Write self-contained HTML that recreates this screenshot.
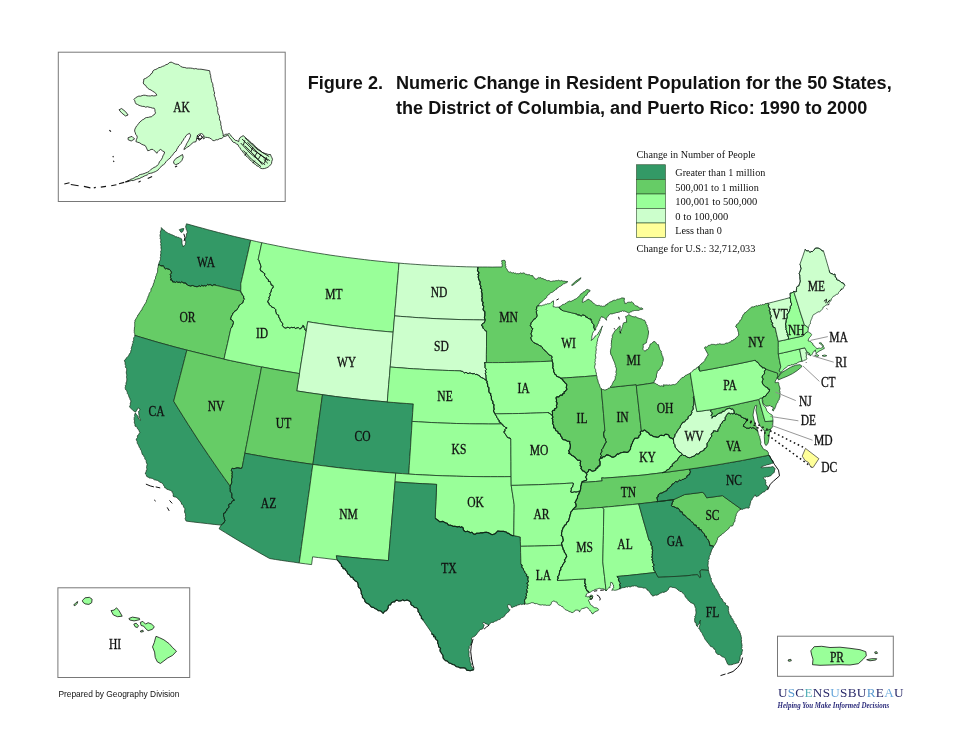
<!DOCTYPE html>
<html><head><meta charset="utf-8"><title>Figure 2</title>
<style>
html,body{margin:0;padding:0;background:#fff;}
body{width:960px;height:742px;overflow:hidden;position:relative;font-family:"Liberation Sans",sans-serif;}
svg{position:absolute;left:0;top:0;}
.st path{stroke:#17351f;stroke-width:0.75;stroke-linejoin:round;}
.lbl text{font-family:"Liberation Serif",serif;font-size:13.6px;fill:#111;text-anchor:middle;stroke:#111;stroke-width:0.3px;}
.isl{stroke:#111;stroke-width:0.8;stroke-linejoin:round;}
.title{font-family:"Liberation Sans",sans-serif;font-weight:bold;font-size:18.09px;fill:#111;}
.leg text{font-family:"Liberation Serif",serif;font-size:11.2px;fill:#111;}
</style></head><body>
<svg width="960" height="742" viewBox="0 0 960 742">
<g class="st">
<path d="M186.5,223.8 191.9,225.3 197.2,226.8 202.5,228.2 207.8,229.7 213.2,231.1 218.5,232.5 223.9,233.8 229.2,235.2 234.6,236.5 240.0,237.8 245.4,239.0 250.7,240.2 249.1,247.5 247.5,254.7 245.8,261.9 244.2,269.2 242.5,276.5 240.8,283.7 240.9,287.7 240.7,291.2 235.8,290.1 230.9,289.0 226.1,287.8 221.2,286.6 216.4,285.5 215.0,284.8 213.7,284.9 212.3,285.7 211.2,285.2 210.1,284.5 208.7,285.0 207.6,284.4 206.5,285.7 205.4,286.0 204.2,285.5 203.1,286.2 201.8,285.2 200.7,286.6 199.5,285.9 198.4,286.3 197.0,286.8 195.8,286.5 194.6,286.4 193.5,285.8 192.3,285.5 190.6,286.1 189.1,285.6 187.8,285.4 187.2,284.4 186.0,284.0 185.4,282.8 184.1,283.2 182.9,282.7 181.9,281.8 180.6,282.7 179.2,282.2 177.9,282.5 176.8,281.6 175.4,282.5 174.3,282.0 172.6,282.0 172.0,280.0 170.4,280.0 171.1,278.7 170.4,277.3 170.9,276.0 170.2,274.5 171.5,272.9 171.0,271.5 170.3,270.2 169.3,269.4 167.9,269.1 166.7,268.5 165.4,268.9 164.4,268.1 164.2,266.8 163.2,265.9 161.9,265.9 160.7,265.9 159.7,264.8 158.4,265.0 158.8,263.8 159.2,262.5 159.5,261.5 160.0,260.5 160.5,259.5 160.4,258.4 160.3,257.3 160.9,256.2 160.3,255.0 160.9,254.0 160.9,252.8 160.6,251.6 161.2,250.4 161.3,249.2 160.9,248.0 161.1,246.8 161.0,245.8 160.5,244.8 161.1,243.7 160.7,242.7 160.5,241.7 160.8,240.6 160.8,239.6 160.1,238.7 160.4,237.6 160.2,236.6 160.0,235.6 160.2,234.4 160.6,233.3 160.2,232.1 160.7,231.0 161.2,229.9 161.3,228.7 161.3,227.6 161.9,228.5 162.8,229.1 163.4,230.1 164.5,230.3 165.1,231.3 165.8,231.9 166.8,232.2 167.5,232.9 168.3,233.4 169.3,233.6 170.1,234.2 171.1,234.3 171.8,234.9 172.7,235.0 173.5,235.5 174.4,235.7 175.0,236.8 175.9,236.8 176.9,236.8 177.7,237.4 178.7,237.3 179.4,238.0 180.3,238.2 181.5,238.8 181.8,240.0 182.0,241.1 182.0,242.3 182.0,243.4 182.3,244.6 183.0,245.6 183.1,246.9 184.5,245.5 185.3,244.6 185.4,243.3 185.8,242.2 185.6,240.9 184.9,239.8 185.1,238.4 185.9,237.4 186.2,236.3 186.4,235.1 186.4,234.0 187.0,233.1 187.5,232.2 187.0,231.2 186.8,230.1 186.1,229.2 186.2,228.1 185.6,227.1 185.9,226.0 186.2,224.9Z" fill="#339966"/>
<path d="M158.4,265.0 159.7,264.8 160.7,265.9 161.9,265.9 163.2,265.9 164.2,266.8 164.4,268.1 165.4,268.9 166.7,268.5 167.9,269.1 169.3,269.4 170.3,270.2 171.0,271.5 171.5,272.9 170.2,274.5 170.9,276.0 170.4,277.3 171.1,278.7 170.4,280.0 172.0,280.0 172.6,282.0 174.3,282.0 175.4,282.5 176.8,281.6 177.9,282.5 179.2,282.2 180.6,282.7 181.9,281.8 182.9,282.7 184.1,283.2 185.4,282.8 186.0,284.0 187.2,284.4 187.8,285.4 189.1,285.6 190.6,286.1 192.3,285.5 193.5,285.8 194.6,286.4 195.8,286.5 197.0,286.8 198.4,286.3 199.5,285.9 200.7,286.6 201.8,285.2 203.1,286.2 204.2,285.5 205.4,286.0 206.5,285.7 207.6,284.4 208.7,285.0 210.1,284.5 211.2,285.2 212.3,285.7 213.7,284.9 215.0,284.8 216.4,285.5 221.2,286.6 226.1,287.8 230.9,289.0 235.8,290.1 240.7,291.2 241.2,292.5 242.0,293.8 242.5,295.2 243.7,296.1 243.6,298.0 244.5,299.2 243.5,300.1 243.2,301.8 242.6,303.1 241.2,303.8 240.2,304.8 239.0,305.6 238.6,307.3 237.7,308.4 237.1,309.5 236.3,310.5 234.9,310.9 234.3,312.1 232.9,313.0 232.5,314.7 231.6,315.9 231.0,317.6 230.5,319.3 232.0,319.9 233.0,321.0 233.5,322.6 233.2,323.9 232.7,325.1 232.1,326.9 230.9,328.3 229.2,336.0 227.5,343.7 225.7,351.4 224.0,359.1 217.8,357.7 211.6,356.2 205.4,354.7 199.2,353.2 193.1,351.7 186.9,350.1 181.1,348.6 175.3,347.1 169.5,345.5 163.7,343.9 157.9,342.3 152.1,340.6 146.4,338.9 140.6,337.2 134.8,335.4 134.8,334.4 134.6,333.3 134.2,332.3 134.3,331.2 134.2,330.1 134.5,329.0 134.3,328.0 134.7,326.8 134.7,325.7 134.7,324.6 134.7,323.4 134.6,322.3 135.1,321.2 134.9,320.1 135.8,319.3 136.3,318.2 136.9,317.2 137.6,316.2 137.8,315.0 138.9,314.3 139.2,313.1 140.1,312.3 140.5,311.3 141.0,310.4 142.1,309.8 142.2,308.6 142.7,307.7 143.2,306.8 143.9,305.9 144.3,304.9 144.8,304.0 145.6,303.2 146.0,302.2 146.5,301.3 146.5,300.2 147.2,299.3 147.4,298.3 147.9,297.3 148.0,296.2 148.9,295.5 148.9,294.4 149.3,293.3 149.8,292.4 150.7,291.5 150.9,290.4 151.0,289.1 151.5,288.0 152.3,287.2 152.7,286.0 153.3,285.1 153.3,283.9 153.9,283.0 154.3,282.0 154.3,280.8 154.6,279.7 155.5,278.9 155.5,277.8 155.6,276.6 156.3,275.6 156.4,274.4 156.9,273.3 157.5,272.3 157.6,271.1 157.7,269.9 157.6,268.6 158.0,267.5 158.3,266.2Z" fill="#66cc66"/>
<path d="M134.8,335.4 140.6,337.2 146.4,338.9 152.1,340.6 157.9,342.3 163.7,343.9 169.5,345.5 175.3,347.1 181.1,348.6 186.9,350.1 184.7,358.6 182.5,367.1 180.3,375.6 178.1,384.1 175.9,392.6 173.7,401.2 178.5,409.0 183.4,416.8 188.3,424.6 193.3,432.3 198.3,440.1 203.5,447.8 208.7,455.5 214.0,463.2 219.3,470.9 224.7,478.5 230.2,486.1 230.3,487.5 230.1,488.8 230.4,490.0 230.1,491.4 231.3,492.5 231.8,493.7 231.9,495.0 231.8,496.3 232.0,498.0 233.6,499.0 234.4,500.4 232.7,500.7 231.8,502.0 231.1,503.6 229.3,503.9 228.6,505.1 229.1,506.8 228.4,508.1 226.8,509.0 226.9,510.5 225.6,511.3 225.2,513.0 223.5,513.4 223.6,514.9 223.6,516.3 224.3,517.6 224.3,519.0 225.1,520.4 224.4,521.8 223.7,523.2 222.3,524.1 221.1,525.1 214.2,524.4 207.2,523.6 200.2,522.8 193.2,522.0 186.2,521.1 185.5,519.8 185.1,518.3 185.6,517.3 185.7,516.2 185.3,515.1 185.7,514.1 184.9,513.0 184.6,512.0 184.6,510.9 184.8,509.8 184.9,508.7 184.2,507.8 183.5,506.9 183.4,505.7 182.7,504.8 181.6,504.2 181.4,503.0 180.9,502.0 180.1,501.1 179.4,500.3 178.4,499.3 177.5,498.2 176.4,497.4 175.3,496.9 174.0,496.8 173.0,496.1 173.3,494.9 173.1,493.7 172.3,492.6 172.6,491.5 171.5,491.2 170.5,490.4 169.3,490.1 168.1,489.5 166.8,489.3 166.0,488.0 164.7,487.7 164.4,486.4 163.6,485.4 163.1,484.2 162.2,483.2 161.1,482.5 159.7,482.2 158.8,481.2 157.7,480.5 156.6,480.3 155.5,480.0 154.4,479.8 153.5,479.3 152.6,478.4 151.5,478.3 150.4,478.1 149.2,478.0 148.3,477.2 147.3,476.9 146.5,476.1 146.3,474.8 145.4,474.0 145.4,472.9 146.2,471.9 146.0,470.7 147.0,469.8 146.8,468.6 146.5,467.5 146.7,466.4 146.9,465.3 147.3,464.2 146.5,463.0 146.2,461.6 146.1,460.3 145.3,459.5 144.7,458.5 144.7,457.3 143.9,456.5 143.6,455.3 142.5,454.7 142.1,453.7 141.8,452.6 141.5,451.5 141.2,450.4 140.4,449.5 140.2,448.4 139.4,447.5 139.0,446.5 138.6,445.4 138.1,444.4 137.4,443.5 137.2,442.4 137.2,441.1 136.4,440.3 136.2,439.1 137.0,438.3 137.6,437.3 137.3,436.1 137.8,435.2 138.8,434.4 139.3,433.2 140.1,432.2 139.2,431.5 139.0,430.3 138.2,429.5 137.5,428.7 137.2,427.6 136.5,426.7 135.2,426.3 134.9,425.2 135.0,424.1 134.4,423.1 134.2,422.0 134.7,420.9 134.1,419.9 134.2,418.8 134.1,417.7 134.8,416.6 134.5,415.3 134.9,414.1 135.4,412.9 135.9,413.9 136.7,414.8 137.5,415.7 138.1,416.7 138.1,418.0 138.8,419.0 139.6,419.7 140.5,420.4 140.4,419.1 139.4,418.0 139.1,416.8 139.1,415.5 138.8,414.2 138.8,412.9 138.4,411.6 139.5,410.7 140.1,409.3 139.1,408.8 138.4,407.9 137.3,408.9 137.0,410.3 136.0,411.0 135.7,412.1 134.7,411.7 133.8,411.0 132.9,410.4 132.1,409.6 131.4,408.8 130.7,407.9 129.8,407.3 129.6,406.2 130.3,405.2 130.4,404.2 130.2,403.1 130.9,402.1 130.8,400.7 130.0,399.5 129.9,398.2 129.0,397.4 128.8,396.3 128.5,395.3 128.1,394.3 127.3,393.5 127.3,392.3 126.9,391.3 126.6,390.3 125.5,389.6 125.3,388.6 125.2,387.4 125.5,386.3 125.4,385.2 126.4,384.2 125.8,383.0 126.6,382.0 126.7,380.9 126.8,379.8 126.8,378.7 126.5,377.6 126.5,376.4 126.8,375.3 126.6,374.2 126.3,373.1 126.3,371.9 126.6,370.8 126.6,369.7 126.7,368.4 125.6,367.6 125.4,366.5 125.8,365.2 125.0,364.2 125.2,363.0 125.0,361.9 124.3,360.9 124.9,359.8 125.9,359.2 126.3,358.0 127.1,357.2 127.9,356.4 128.8,355.6 129.1,354.6 129.6,353.5 130.6,352.8 130.7,351.6 130.9,350.5 131.5,349.5 131.2,348.3 131.6,347.2 131.9,346.2 132.4,345.1 132.3,343.9 133.3,343.0 132.7,341.7 133.5,340.8 133.7,339.7 133.5,338.5 133.9,337.5 134.7,336.5Z" fill="#339966"/>
<path d="M186.9,350.1 193.1,351.7 199.2,353.2 205.4,354.7 211.6,356.2 217.8,357.7 224.0,359.1 230.3,360.5 236.5,361.8 242.8,363.1 249.1,364.4 255.3,365.7 261.6,366.9 260.0,375.5 258.3,384.2 256.6,392.8 254.9,401.4 253.3,410.0 251.6,418.7 249.9,427.3 248.3,435.9 246.6,444.6 244.9,453.2 243.5,460.5 242.1,467.9 240.4,468.4 238.8,468.0 237.1,467.8 235.5,468.3 233.9,468.7 232.2,468.3 231.5,469.5 231.4,470.7 232.5,472.0 232.0,473.2 232.3,474.5 232.0,475.7 232.3,477.2 231.7,478.6 231.5,480.0 231.7,481.4 231.7,482.9 231.0,484.5 230.2,486.1 224.7,478.5 219.3,470.9 214.0,463.2 208.7,455.5 203.5,447.8 198.3,440.1 193.3,432.3 188.3,424.6 183.4,416.8 178.5,409.0 173.7,401.2 175.9,392.6 178.1,384.1 180.3,375.6 182.5,367.1 184.7,358.6Z" fill="#66cc66"/>
<path d="M250.7,240.2 256.3,241.5 261.8,242.7 260.0,251.1 258.2,259.5 259.0,260.5 259.4,261.7 259.7,263.0 260.3,264.1 260.6,265.3 261.0,266.8 260.4,268.2 260.3,269.7 260.8,271.0 262.1,271.3 263.0,272.1 263.8,273.1 264.9,273.7 264.5,275.5 265.4,276.3 266.1,277.2 266.7,278.2 267.4,279.1 268.5,279.7 268.4,281.4 270.1,281.4 270.5,282.7 271.0,283.8 271.3,285.1 272.8,285.3 273.3,286.5 273.1,287.8 272.0,288.6 271.4,289.7 271.3,291.0 270.9,292.2 269.9,293.2 270.3,294.8 270.0,296.1 268.9,297.0 269.3,298.6 268.8,299.8 268.0,300.9 267.7,302.2 269.0,302.9 269.2,304.6 270.2,305.4 271.2,305.9 271.8,307.2 273.1,307.4 274.1,307.9 275.0,308.7 275.8,309.7 275.7,311.2 276.2,312.4 276.4,313.8 277.4,314.6 278.7,315.2 278.7,316.7 279.3,318.0 280.1,319.2 280.4,320.6 281.2,321.7 281.9,322.8 282.9,323.7 282.4,325.6 283.2,326.6 284.2,327.5 285.4,328.0 286.7,327.7 288.0,327.1 289.2,328.0 290.5,327.7 291.8,327.3 293.0,327.8 294.3,327.1 295.4,328.6 296.7,327.9 298.3,327.5 299.5,328.7 301.0,328.6 301.4,327.4 302.7,326.8 302.8,325.4 303.9,326.0 304.0,327.4 304.8,328.3 305.0,330.0 306.3,330.9 304.9,339.4 303.6,347.9 302.2,356.5 300.8,365.0 299.5,373.6 293.1,372.5 286.8,371.5 280.5,370.4 274.2,369.3 267.9,368.1 261.6,366.9 255.3,365.7 249.1,364.4 242.8,363.1 236.5,361.8 230.3,360.5 224.0,359.1 225.7,351.4 227.5,343.7 229.2,336.0 230.9,328.3 232.1,326.9 232.7,325.1 233.2,323.9 233.5,322.6 233.0,321.0 232.0,319.9 230.5,319.3 231.0,317.6 231.6,315.9 232.5,314.7 232.9,313.0 234.3,312.1 234.9,310.9 236.3,310.5 237.1,309.5 237.7,308.4 238.6,307.3 239.0,305.6 240.2,304.8 241.2,303.8 242.6,303.1 243.2,301.8 243.5,300.1 244.5,299.2 243.6,298.0 243.7,296.1 242.5,295.2 242.0,293.8 241.2,292.5 240.7,291.2 240.9,287.7 240.8,283.7 242.5,276.5 244.2,269.2 245.8,261.9 247.5,254.7 249.1,247.5Z" fill="#99ff99"/>
<path d="M261.8,242.7 267.5,243.9 273.1,245.0 278.8,246.2 284.5,247.3 290.2,248.4 295.9,249.4 301.6,250.4 307.3,251.4 313.0,252.4 318.7,253.3 324.4,254.2 330.1,255.1 335.8,255.9 341.6,256.7 347.3,257.5 353.0,258.2 358.8,258.9 364.5,259.6 370.3,260.3 376.0,260.9 381.8,261.5 387.5,262.1 393.3,262.6 399.0,263.1 398.4,270.6 397.8,278.1 397.1,285.6 396.5,293.2 395.9,300.7 395.2,308.3 394.6,315.9 393.9,324.0 393.2,332.2 387.1,331.6 380.9,331.1 374.8,330.5 368.7,329.8 362.6,329.2 356.5,328.5 350.4,327.8 344.3,327.0 338.2,326.2 332.1,325.4 326.0,324.5 319.9,323.6 313.8,322.7 307.7,321.7 307.0,326.3 306.3,330.9 305.0,330.0 304.8,328.3 304.0,327.4 303.9,326.0 302.8,325.4 302.7,326.8 301.4,327.4 301.0,328.6 299.5,328.7 298.3,327.5 296.7,327.9 295.4,328.6 294.3,327.1 293.0,327.8 291.8,327.3 290.5,327.7 289.2,328.0 288.0,327.1 286.7,327.7 285.4,328.0 284.2,327.5 283.2,326.6 282.4,325.6 282.9,323.7 281.9,322.8 281.2,321.7 280.4,320.6 280.1,319.2 279.3,318.0 278.7,316.7 278.7,315.2 277.4,314.6 276.4,313.8 276.2,312.4 275.7,311.2 275.8,309.7 275.0,308.7 274.1,307.9 273.1,307.4 271.8,307.2 271.2,305.9 270.2,305.4 269.2,304.6 269.0,302.9 267.7,302.2 268.0,300.9 268.8,299.8 269.3,298.6 268.9,297.0 270.0,296.1 270.3,294.8 269.9,293.2 270.9,292.2 271.3,291.0 271.4,289.7 272.0,288.6 273.1,287.8 273.3,286.5 272.8,285.3 271.3,285.1 271.0,283.8 270.5,282.7 270.1,281.4 268.4,281.4 268.5,279.7 267.4,279.1 266.7,278.2 266.1,277.2 265.4,276.3 264.5,275.5 264.9,273.7 263.8,273.1 263.0,272.1 262.1,271.3 260.8,271.0 260.3,269.7 260.4,268.2 261.0,266.8 260.6,265.3 260.3,264.1 259.7,263.0 259.4,261.7 259.0,260.5 258.2,259.5 260.0,251.1Z" fill="#99ff99"/>
<path d="M307.7,321.7 313.8,322.7 319.9,323.6 326.0,324.5 332.1,325.4 338.2,326.2 344.3,327.0 350.4,327.8 356.5,328.5 362.6,329.2 368.7,329.8 374.8,330.5 380.9,331.1 387.1,331.6 393.2,332.2 392.4,340.9 391.7,349.6 391.0,358.3 390.2,367.0 389.5,375.7 388.7,384.5 388.0,393.2 387.3,402.0 380.8,401.4 374.3,400.8 367.8,400.2 361.3,399.5 354.8,398.8 348.4,398.0 341.9,397.3 335.4,396.5 328.9,395.6 322.5,394.7 316.0,393.8 309.6,392.9 303.1,391.9 296.7,390.9 298.1,382.2 299.5,373.6 300.8,365.0 302.2,356.5 303.6,347.9 304.9,339.4 306.3,330.9 307.0,326.3Z" fill="#ccffcc"/>
<path d="M261.6,366.9 267.9,368.1 274.2,369.3 280.5,370.4 286.8,371.5 293.1,372.5 299.5,373.6 298.1,382.2 296.7,390.9 303.1,391.9 309.6,392.9 316.0,393.8 322.5,394.7 321.3,403.4 320.1,412.2 318.9,420.9 317.7,429.6 316.5,438.3 315.3,447.0 314.1,455.7 312.9,464.4 306.0,463.4 299.2,462.4 292.4,461.4 285.6,460.3 278.8,459.2 272.0,458.1 265.2,456.9 258.5,455.7 251.7,454.5 244.9,453.2 246.6,444.6 248.3,435.9 249.9,427.3 251.6,418.7 253.3,410.0 254.9,401.4 256.6,392.8 258.3,384.2 260.0,375.5Z" fill="#66cc66"/>
<path d="M322.5,394.7 328.9,395.6 335.4,396.5 341.9,397.3 348.4,398.0 354.8,398.8 361.3,399.5 367.8,400.2 374.3,400.8 380.8,401.4 387.3,402.0 393.8,402.5 400.3,403.0 406.8,403.5 413.3,403.9 412.7,412.7 412.1,421.4 411.6,430.2 411.0,439.0 410.5,447.8 409.9,456.5 409.3,465.3 408.8,474.1 402.3,473.6 395.7,473.2 389.3,472.7 382.9,472.2 376.6,471.6 370.2,471.0 363.8,470.4 357.4,469.8 351.0,469.1 344.7,468.4 338.3,467.7 331.9,466.9 325.6,466.1 319.2,465.3 312.9,464.4 314.1,455.7 315.3,447.0 316.5,438.3 317.7,429.6 318.9,420.9 320.1,412.2 321.3,403.4Z" fill="#339966"/>
<path d="M244.9,453.2 251.7,454.5 258.5,455.7 265.2,456.9 272.0,458.1 278.8,459.2 285.6,460.3 292.4,461.4 299.2,462.4 306.0,463.4 312.9,464.4 311.7,472.6 310.6,480.9 309.5,489.1 308.3,497.3 307.2,505.5 306.0,513.8 304.9,522.0 303.8,530.2 302.6,538.4 301.5,546.6 300.4,554.8 299.2,563.0 293.3,562.1 287.4,561.3 281.5,560.4 275.5,559.5 269.6,558.5 263.2,554.9 256.8,551.3 250.4,547.6 244.1,543.9 237.8,540.2 231.5,536.4 225.3,532.6 219.1,528.8 221.1,525.1 222.3,524.1 223.7,523.2 224.4,521.8 225.1,520.4 224.3,519.0 224.3,517.6 223.6,516.3 223.6,514.9 223.5,513.4 225.2,513.0 225.6,511.3 226.9,510.5 226.8,509.0 228.4,508.1 229.1,506.8 228.6,505.1 229.3,503.9 231.1,503.6 231.8,502.0 232.7,500.7 234.4,500.4 233.6,499.0 232.0,498.0 231.8,496.3 231.9,495.0 231.8,493.7 231.3,492.5 230.1,491.4 230.4,490.0 230.1,488.8 230.3,487.5 230.2,486.1 231.0,484.5 231.7,482.9 231.7,481.4 231.5,480.0 231.7,478.6 232.3,477.2 232.0,475.7 232.3,474.5 232.0,473.2 232.5,472.0 231.4,470.7 231.5,469.5 232.2,468.3 233.9,468.7 235.5,468.3 237.1,467.8 238.8,468.0 240.4,468.4 242.1,467.9 243.5,460.5Z" fill="#339966"/>
<path d="M312.9,464.4 319.2,465.3 325.6,466.1 331.9,466.9 338.3,467.7 344.7,468.4 351.0,469.1 357.4,469.8 363.8,470.4 370.2,471.0 376.6,471.6 382.9,472.2 389.3,472.7 395.7,473.2 395.1,481.9 394.3,490.7 393.6,499.5 392.9,508.2 392.1,517.0 391.4,525.7 390.6,534.5 389.9,543.2 389.1,551.9 388.4,560.6 381.9,560.1 375.3,559.6 368.8,559.0 362.3,558.5 355.8,557.8 349.3,557.2 342.8,556.5 336.3,555.8 337.2,559.8 331.0,559.1 324.9,558.3 318.7,557.6 312.6,556.8 311.6,564.6 305.4,563.8 299.2,563.0 300.4,554.8 301.5,546.6 302.6,538.4 303.8,530.2 304.9,522.0 306.0,513.8 307.2,505.5 308.3,497.3 309.5,489.1 310.6,480.9 311.7,472.6Z" fill="#99ff99"/>
<path d="M399.0,263.1 404.7,263.6 410.3,264.0 415.9,264.4 421.5,264.8 427.2,265.1 432.8,265.5 438.4,265.7 444.0,266.0 449.7,266.2 455.3,266.4 460.9,266.6 466.6,266.8 472.2,266.9 477.8,267.0 478.0,268.2 477.6,269.5 477.5,270.7 478.4,271.9 479.1,273.0 477.9,274.4 478.7,275.6 478.2,276.9 478.5,278.1 478.8,279.3 479.3,280.5 480.1,281.6 480.2,282.9 479.7,284.2 480.4,285.3 481.0,286.5 480.3,288.1 481.5,289.0 481.8,290.3 481.4,291.7 482.0,292.9 482.1,294.1 482.1,295.3 481.9,296.6 482.4,297.7 481.9,299.0 482.0,300.2 482.1,301.4 483.3,302.5 482.7,303.8 482.7,305.2 483.7,306.3 483.5,307.7 483.1,309.2 483.5,310.5 484.8,311.5 484.9,312.8 484.8,314.2 484.9,315.7 484.4,317.2 484.7,318.6 485.3,320.0 479.2,319.9 473.2,319.8 467.1,319.7 461.1,319.6 455.0,319.4 449.0,319.2 442.9,319.0 436.9,318.7 430.8,318.4 424.8,318.0 418.7,317.7 412.7,317.3 406.6,316.8 400.6,316.4 394.6,315.9 395.2,308.3 395.9,300.7 396.5,293.2 397.1,285.6 397.8,278.1 398.4,270.6Z" fill="#ccffcc"/>
<path d="M394.6,315.9 400.6,316.4 406.6,316.8 412.7,317.3 418.7,317.7 424.8,318.0 430.8,318.4 436.9,318.7 442.9,319.0 449.0,319.2 455.0,319.4 461.1,319.6 467.1,319.7 473.2,319.8 479.2,319.9 485.3,320.0 484.8,321.4 484.4,322.8 483.0,323.4 481.9,324.3 481.7,325.9 482.9,326.3 482.9,328.2 483.9,328.8 484.7,329.7 485.3,330.8 486.6,331.1 486.5,339.0 486.5,346.8 486.4,354.7 486.4,362.6 484.5,362.6 485.0,364.3 485.1,366.1 485.0,367.4 485.7,368.5 486.4,369.6 485.3,370.8 486.1,372.7 485.1,373.9 486.0,375.0 486.0,376.4 486.1,377.7 486.2,379.0 486.3,380.3 485.1,379.9 484.3,378.8 483.2,378.3 481.7,377.7 480.3,377.0 479.4,375.6 478.1,375.2 476.9,374.4 475.4,374.5 474.3,373.5 473.0,373.9 471.8,373.6 470.5,373.2 469.2,373.1 468.0,373.7 467.0,373.0 466.0,372.2 464.5,373.1 463.6,372.4 462.6,371.4 461.5,371.3 460.4,370.9 454.6,370.7 448.7,370.5 442.8,370.3 437.0,370.1 431.1,369.8 425.3,369.5 419.4,369.1 413.6,368.8 407.7,368.4 401.9,367.9 396.1,367.5 390.2,367.0 391.0,358.3 391.7,349.6 392.4,340.9 393.2,332.2 393.9,324.0Z" fill="#ccffcc"/>
<path d="M390.2,367.0 396.1,367.5 401.9,367.9 407.7,368.4 413.6,368.8 419.4,369.1 425.3,369.5 431.1,369.8 437.0,370.1 442.8,370.3 448.7,370.5 454.6,370.7 460.4,370.9 461.5,371.3 462.6,371.4 463.6,372.4 464.5,373.1 466.0,372.2 467.0,373.0 468.0,373.7 469.2,373.1 470.5,373.2 471.8,373.6 473.0,373.9 474.3,373.5 475.4,374.5 476.9,374.4 478.1,375.2 479.4,375.6 480.3,377.0 481.7,377.7 483.2,378.3 484.3,378.8 485.1,379.9 486.3,380.3 487.2,381.3 486.9,382.7 487.6,383.9 487.7,385.2 487.6,386.6 488.9,387.5 488.9,388.9 488.9,390.2 488.9,391.6 489.4,392.8 490.9,393.7 490.5,395.2 491.4,396.3 491.4,397.6 491.4,399.3 492.2,400.5 493.0,401.8 492.8,403.4 494.1,404.8 493.8,406.4 493.9,407.8 494.3,409.2 493.5,410.6 494.0,412.0 495.1,413.8 495.5,415.0 496.5,416.0 496.8,417.3 497.7,418.3 498.0,419.6 499.3,420.3 499.2,422.1 500.9,422.5 501.3,423.9 495.0,424.0 488.6,424.0 482.2,423.9 475.8,423.9 469.5,423.8 463.1,423.6 456.7,423.5 450.3,423.3 444.0,423.1 437.6,422.8 431.2,422.5 424.9,422.2 418.5,421.8 412.1,421.4 412.7,412.7 413.3,403.9 406.8,403.5 400.3,403.0 393.8,402.5 387.3,402.0 388.0,393.2 388.7,384.5 389.5,375.7Z" fill="#99ff99"/>
<path d="M412.1,421.4 418.5,421.8 424.9,422.2 431.2,422.5 437.6,422.8 444.0,423.1 450.3,423.3 456.7,423.5 463.1,423.6 469.5,423.8 475.8,423.9 482.2,423.9 488.6,424.0 495.0,424.0 501.3,423.9 502.7,424.3 503.3,426.0 504.7,426.5 505.6,427.6 507.1,427.9 505.8,428.5 505.0,429.4 505.1,431.2 503.8,431.7 504.4,432.9 505.2,433.9 506.0,435.1 506.8,436.2 507.4,437.5 508.8,437.8 510.1,438.0 510.8,439.3 510.9,446.8 510.9,454.2 511.0,461.7 511.0,469.1 511.1,476.6 504.3,476.7 497.4,476.7 490.6,476.7 483.8,476.7 477.0,476.6 470.1,476.5 463.3,476.4 456.5,476.2 449.7,476.0 442.9,475.8 436.0,475.5 429.2,475.2 422.4,474.9 415.6,474.5 408.8,474.1 409.3,465.3 409.9,456.5 410.5,447.8 411.0,439.0 411.6,430.2Z" fill="#99ff99"/>
<path d="M408.8,474.1 415.6,474.5 422.4,474.9 429.2,475.2 436.0,475.5 442.9,475.8 449.7,476.0 456.5,476.2 463.3,476.4 470.1,476.5 477.0,476.6 483.8,476.7 490.6,476.7 497.4,476.7 504.3,476.7 511.1,476.6 511.2,485.4 512.2,491.8 513.2,498.2 514.2,504.7 514.1,512.4 514.0,520.1 513.9,527.9 513.8,535.6 512.3,535.6 511.0,535.1 509.8,534.3 508.8,533.4 507.3,533.3 506.4,532.0 505.0,531.8 503.6,531.4 502.1,531.4 500.7,531.4 499.2,531.2 497.7,531.1 496.7,532.0 495.8,533.2 494.6,533.9 493.4,534.3 492.1,534.7 490.7,534.0 489.4,533.3 488.0,532.6 486.5,532.3 484.9,532.4 483.5,532.6 482.2,532.9 480.7,532.7 479.5,533.2 478.1,533.3 476.7,533.2 475.5,534.1 474.0,534.3 472.9,533.3 471.9,532.2 470.2,532.8 469.1,531.9 467.5,531.2 465.7,531.7 464.1,530.9 463.3,529.6 463.2,528.0 462.0,526.8 460.5,527.4 459.2,526.4 457.7,526.9 456.3,526.6 454.9,526.3 453.4,526.4 452.0,525.8 450.7,525.2 449.2,525.3 448.0,524.7 447.3,523.3 445.9,523.0 444.6,522.5 443.6,521.6 442.2,521.4 440.8,521.8 439.3,521.7 438.6,520.5 437.3,520.0 436.4,519.0 435.2,518.4 435.5,509.9 435.9,501.4 436.3,492.9 436.6,484.4 429.7,484.0 422.8,483.7 415.8,483.3 408.9,482.9 402.0,482.4 395.1,481.9 395.7,473.2 402.3,473.6Z" fill="#99ff99"/>
<path d="M395.1,481.9 402.0,482.4 408.9,482.9 415.8,483.3 422.8,483.7 429.7,484.0 436.6,484.4 436.3,492.9 435.9,501.4 435.5,509.9 435.2,518.4 436.4,519.0 437.3,520.0 438.6,520.5 439.3,521.7 440.8,521.8 442.2,521.4 443.6,521.6 444.6,522.5 445.9,523.0 447.3,523.3 448.0,524.7 449.2,525.3 450.7,525.2 452.0,525.8 453.4,526.4 454.9,526.3 456.3,526.6 457.7,526.9 459.2,526.4 460.5,527.4 462.0,526.8 463.2,528.0 463.3,529.6 464.1,530.9 465.7,531.7 467.5,531.2 469.1,531.9 470.2,532.8 471.9,532.2 472.9,533.3 474.0,534.3 475.5,534.1 476.7,533.2 478.1,533.3 479.5,533.2 480.7,532.7 482.2,532.9 483.5,532.6 484.9,532.4 486.5,532.3 488.0,532.6 489.4,533.3 490.7,534.0 492.1,534.7 493.4,534.3 494.6,533.9 495.8,533.2 496.7,532.0 497.7,531.1 499.2,531.2 500.7,531.4 502.1,531.4 503.6,531.4 505.0,531.8 506.4,532.0 507.3,533.3 508.8,533.4 509.8,534.3 511.0,535.1 512.3,535.6 513.8,535.6 520.3,537.0 520.4,541.7 520.5,546.3 520.6,552.3 520.8,558.2 520.9,564.2 522.2,565.0 521.9,566.6 522.2,567.9 523.5,568.7 523.5,570.2 524.6,571.1 524.9,572.4 525.5,573.5 526.8,574.4 526.3,576.0 528.2,576.6 528.1,578.0 527.8,579.3 528.2,580.6 528.6,581.9 526.8,583.0 527.7,584.3 528.0,585.6 527.2,586.8 527.8,588.3 526.6,589.6 527.2,591.1 527.2,592.5 526.1,593.8 526.7,595.2 525.8,596.7 526.4,598.1 524.9,599.1 524.5,600.8 524.8,602.5 524.6,604.3 523.1,604.0 521.7,604.6 520.2,604.1 519.1,604.9 517.6,604.8 516.7,606.0 515.2,606.1 514.2,606.7 512.9,606.9 512.1,607.8 511.2,607.1 511.2,605.8 510.2,605.1 508.3,604.4 507.7,605.6 507.7,607.0 508.5,608.2 509.2,609.5 510.2,609.8 509.1,610.7 508.6,611.9 507.3,612.6 506.5,613.6 505.3,614.4 504.9,615.7 503.9,616.6 502.7,617.4 501.5,617.6 500.8,618.6 499.9,619.4 498.7,619.6 497.7,620.1 496.5,620.9 495.1,621.1 494.1,622.1 492.7,622.4 491.3,622.5 490.2,623.3 488.9,624.9 487.6,624.4 486.4,623.9 484.8,623.3 483.9,622.0 482.6,623.3 483.7,624.4 484.1,625.8 483.3,626.9 483.3,628.3 481.9,629.2 480.1,629.5 479.4,630.7 478.6,631.7 477.6,632.7 476.9,633.8 476.1,634.9 475.1,635.8 474.1,636.6 472.8,637.1 471.7,637.8 471.4,638.9 471.6,640.2 471.7,641.5 472.0,642.7 470.8,643.5 470.9,644.9 469.8,645.8 469.0,646.8 469.5,648.1 468.7,649.1 468.6,650.2 469.1,651.4 469.1,652.7 468.8,654.0 469.1,655.2 468.8,656.3 469.8,657.3 469.9,658.3 470.0,659.4 469.8,660.5 470.1,661.5 470.4,662.8 471.4,663.9 470.9,665.3 471.6,666.5 472.2,667.6 473.4,668.4 473.9,669.6 472.1,670.1 470.3,670.8 468.3,670.4 466.5,670.1 465.6,668.3 463.9,667.9 462.1,667.7 460.1,667.9 458.4,667.0 456.6,666.7 455.4,666.0 454.5,664.8 452.9,664.6 451.7,663.9 450.4,663.3 448.9,663.0 448.0,661.8 447.0,660.9 445.3,660.6 444.4,659.5 443.4,658.5 443.0,657.3 443.0,655.9 442.6,654.7 441.5,653.6 441.0,652.4 440.1,651.2 440.0,649.8 440.6,648.3 438.9,647.2 438.5,645.9 438.4,644.5 437.7,643.3 437.7,641.9 437.6,640.5 436.2,639.7 435.3,638.7 435.6,637.1 433.5,636.6 433.9,635.0 432.0,634.4 431.9,633.0 427.5,626.7 423.2,620.4 422.8,619.2 421.3,618.4 421.4,617.0 421.0,615.8 419.7,614.9 419.7,613.5 418.8,612.5 418.0,611.4 418.1,610.0 417.7,608.8 416.4,607.7 414.3,607.5 413.3,606.0 411.7,605.3 410.8,604.2 410.8,602.3 409.6,601.3 408.3,600.5 406.9,599.9 405.6,600.5 404.2,600.7 402.8,599.8 401.5,600.6 400.0,601.0 398.5,601.0 396.9,600.1 395.4,600.5 394.9,601.9 393.2,601.9 391.8,602.4 391.1,603.5 390.6,604.9 388.9,605.0 388.2,606.1 388.2,608.0 387.2,609.6 386.4,610.7 384.8,611.1 384.0,612.2 383.1,613.3 382.1,612.3 381.2,611.2 379.9,610.7 378.2,610.7 377.3,609.7 376.0,608.9 374.6,608.4 373.5,607.4 371.9,607.2 370.7,606.5 369.9,605.2 368.8,604.2 367.4,603.4 366.0,602.7 365.0,601.7 364.8,600.3 364.3,599.1 363.2,598.2 362.3,597.1 362.5,595.7 361.8,594.6 361.2,593.4 361.3,592.1 361.0,590.9 360.6,589.7 360.2,588.5 358.7,587.5 358.2,586.4 358.2,585.1 357.9,583.8 357.7,582.6 356.6,581.6 355.2,581.0 354.3,579.9 353.2,579.0 352.9,577.3 350.9,577.2 350.1,576.0 349.4,574.8 347.9,574.1 347.3,572.7 346.9,571.2 345.6,570.4 345.1,568.9 343.1,568.6 342.8,567.0 341.4,566.2 341.4,564.6 340.4,563.5 339.4,562.5 338.6,561.3 337.6,560.3 337.2,559.8 336.3,555.8 342.8,556.5 349.3,557.2 355.8,557.8 362.3,558.5 368.8,559.0 375.3,559.6 381.9,560.1 388.4,560.6 389.1,551.9 389.9,543.2 390.6,534.5 391.4,525.7 392.1,517.0 392.9,508.2 393.6,499.5 394.3,490.7Z" fill="#339966"/>
<path d="M477.8,267.0 482.7,267.0 487.5,267.0 492.3,267.1 497.1,267.0 501.9,267.0 502.2,265.9 502.3,264.8 501.8,263.7 502.2,262.6 501.6,261.6 501.8,260.5 502.9,260.6 503.9,260.2 505.0,260.6 505.4,261.6 505.5,262.6 505.2,263.7 505.7,264.7 505.3,265.8 506.0,266.7 505.7,267.8 506.5,268.6 507.1,269.5 507.7,270.7 508.3,271.7 509.3,272.2 510.5,271.9 511.4,272.6 512.4,272.9 513.5,272.6 514.5,273.3 515.6,273.1 516.6,273.8 517.7,273.6 518.8,273.8 519.8,273.4 520.8,272.8 521.9,273.6 522.9,273.0 523.9,272.9 524.7,273.3 525.5,274.3 526.5,274.1 527.2,274.8 528.2,274.7 529.2,274.7 530.1,274.9 531.0,275.8 532.0,275.5 532.9,275.8 533.3,276.8 533.9,277.7 534.8,278.2 535.4,279.1 536.4,279.1 537.2,278.4 538.1,278.2 538.8,277.3 539.7,277.9 540.9,277.6 541.7,278.7 542.9,278.5 543.8,279.1 544.8,279.6 545.8,279.7 546.7,280.5 547.7,280.7 548.8,280.5 549.8,280.9 550.7,281.5 551.7,281.4 552.7,281.1 553.6,280.9 554.6,281.0 555.5,280.7 556.5,280.6 557.4,280.7 558.4,280.2 559.3,280.6 560.3,280.9 561.2,280.4 562.2,280.8 563.1,281.2 564.0,281.1 565.0,281.2 565.9,281.6 566.9,281.4 567.8,281.7 566.9,282.2 566.3,283.1 565.2,283.1 564.4,283.7 563.4,283.8 562.7,284.6 561.9,285.3 561.0,285.6 560.3,286.5 559.3,286.6 558.6,287.3 557.9,288.1 556.8,288.1 556.4,289.4 555.5,289.7 554.8,290.4 554.0,290.9 553.2,291.5 552.5,292.3 551.5,292.5 550.6,292.9 549.9,293.5 549.1,294.2 548.5,295.0 547.5,295.5 546.9,296.4 546.6,297.6 545.8,298.4 544.9,298.9 544.0,299.6 543.4,300.4 542.6,301.1 541.8,301.8 541.0,302.3 540.1,302.8 539.6,303.9 538.8,304.4 538.8,305.8 537.6,306.0 536.6,306.8 536.9,308.0 536.2,309.3 537.0,310.5 536.3,311.8 536.5,313.0 536.8,314.2 537.2,315.4 537.0,316.7 536.0,317.6 535.3,318.9 533.9,319.1 533.1,320.5 532.3,321.8 531.0,322.7 530.9,324.4 530.1,325.8 531.3,326.5 531.7,328.1 533.0,328.7 531.9,330.5 531.8,331.9 531.1,333.3 531.4,334.8 532.1,336.1 530.9,337.5 531.1,338.8 531.6,340.1 532.5,341.3 533.6,342.5 535.0,343.1 536.2,343.8 537.6,344.0 538.6,345.1 539.9,345.7 541.3,346.2 542.2,347.0 542.7,348.4 543.4,349.3 544.6,349.9 545.2,351.1 546.3,351.7 547.3,352.6 548.0,353.9 549.0,354.8 550.3,355.3 551.5,355.8 552.2,357.1 551.6,358.5 552.3,359.7 552.2,361.1 546.2,361.4 540.2,361.6 534.2,361.8 528.3,362.0 522.3,362.2 516.3,362.3 510.3,362.4 504.3,362.5 498.4,362.6 492.4,362.6 486.4,362.6 486.4,354.7 486.5,346.8 486.5,339.0 486.6,331.1 485.3,330.8 484.7,329.7 483.9,328.8 482.9,328.2 482.9,326.3 481.7,325.9 481.9,324.3 483.0,323.4 484.4,322.8 484.8,321.4 485.3,320.0 484.7,318.6 484.4,317.2 484.9,315.7 484.8,314.2 484.9,312.8 484.8,311.5 483.5,310.5 483.1,309.2 483.5,307.7 483.7,306.3 482.7,305.2 482.7,303.8 483.3,302.5 482.1,301.4 482.0,300.2 481.9,299.0 482.4,297.7 481.9,296.6 482.1,295.3 482.1,294.1 482.0,292.9 481.4,291.7 481.8,290.3 481.5,289.0 480.3,288.1 481.0,286.5 480.4,285.3 479.7,284.2 480.2,282.9 480.1,281.6 479.3,280.5 478.8,279.3 478.5,278.1 478.2,276.9 478.7,275.6 477.9,274.4 479.1,273.0 478.4,271.9 477.5,270.7 477.6,269.5 478.0,268.2Z" fill="#66cc66"/>
<path d="M486.4,362.6 492.4,362.6 498.4,362.6 504.3,362.5 510.3,362.4 516.3,362.3 522.3,362.2 528.3,362.0 534.2,361.8 540.2,361.6 546.2,361.4 552.2,361.1 552.6,362.3 553.0,363.6 552.8,365.0 553.1,366.3 552.7,367.7 553.4,368.9 553.8,370.2 553.6,371.6 554.4,372.8 554.7,374.1 556.0,374.7 556.7,376.2 558.0,376.8 559.4,377.2 560.4,378.2 561.6,378.8 562.7,379.5 563.2,380.9 564.3,381.7 565.0,382.9 566.1,383.6 566.8,384.8 566.5,386.3 566.3,387.7 567.0,389.2 566.2,390.2 565.4,391.2 564.1,391.7 564.2,393.5 562.6,393.9 562.3,395.3 560.9,395.1 559.7,395.7 558.8,397.0 557.4,396.8 556.2,397.2 556.2,398.7 556.6,400.1 556.3,401.6 557.1,402.9 557.0,404.3 556.4,405.6 556.9,407.1 556.1,408.3 554.8,408.6 554.6,410.4 553.0,410.3 552.3,411.4 552.5,412.9 552.5,414.4 552.3,415.8 551.5,414.7 550.3,414.0 549.2,413.2 548.0,412.5 542.2,412.8 536.3,413.0 530.4,413.2 524.5,413.4 518.6,413.5 512.7,413.6 506.9,413.7 501.0,413.8 495.1,413.8 494.0,412.0 493.5,410.6 494.3,409.2 493.9,407.8 493.8,406.4 494.1,404.8 492.8,403.4 493.0,401.8 492.2,400.5 491.4,399.3 491.4,397.6 491.4,396.3 490.5,395.2 490.9,393.7 489.4,392.8 488.9,391.6 488.9,390.2 488.9,388.9 488.9,387.5 487.6,386.6 487.7,385.2 487.6,383.9 486.9,382.7 487.2,381.3 486.3,380.3 486.2,379.0 486.1,377.7 486.0,376.4 486.0,375.0 485.1,373.9 486.1,372.7 485.3,370.8 486.4,369.6 485.7,368.5 485.0,367.4 485.1,366.1 485.0,364.3 484.5,362.6Z" fill="#99ff99"/>
<path d="M495.1,413.8 501.0,413.8 506.9,413.7 512.7,413.6 518.6,413.5 524.5,413.4 530.4,413.2 536.3,413.0 542.2,412.8 548.0,412.5 549.2,413.2 550.3,414.0 551.5,414.7 552.3,415.8 553.0,417.1 552.1,418.4 552.8,419.6 552.5,420.9 553.1,422.1 552.5,423.4 553.4,424.7 553.8,426.2 553.5,427.8 554.9,428.0 555.4,429.3 555.8,430.7 557.2,431.0 558.0,431.9 558.2,433.4 560.0,433.8 560.5,435.0 560.9,436.3 561.9,437.2 562.2,438.6 563.1,439.6 564.5,439.8 565.9,440.1 567.1,441.1 568.5,441.2 569.9,441.5 569.6,442.9 570.2,444.3 570.4,445.7 570.3,447.0 570.1,448.3 569.7,449.5 568.6,450.6 569.6,452.2 568.6,453.4 569.8,453.7 570.9,454.3 571.6,455.5 572.9,455.8 573.9,456.5 574.9,457.2 575.7,458.2 576.8,459.3 577.9,460.3 579.7,460.2 580.7,461.4 580.2,462.8 580.5,464.2 580.2,465.6 581.6,467.0 580.9,468.4 581.8,469.6 582.7,470.9 584.3,471.2 585.2,472.4 586.4,473.3 587.0,474.8 586.1,476.2 585.8,477.6 586.9,479.0 586.2,480.4 584.8,480.8 583.5,481.2 582.1,481.6 582.1,482.4 581.4,483.6 581.3,484.9 580.8,486.2 580.7,487.5 580.7,488.9 580.3,490.1 580.0,491.4 578.6,491.4 577.3,491.8 576.0,492.2 574.6,491.8 573.3,492.2 572.0,492.5 570.6,492.0 571.0,490.7 571.3,489.4 571.1,488.0 572.6,487.0 572.7,485.7 573.3,484.4 573.1,483.0 566.3,483.4 559.4,483.8 552.5,484.1 545.6,484.4 538.7,484.7 531.9,484.9 525.0,485.1 518.1,485.3 511.2,485.4 511.1,476.6 511.0,469.1 511.0,461.7 510.9,454.2 510.9,446.8 510.8,439.3 510.1,438.0 508.8,437.8 507.4,437.5 506.8,436.2 506.0,435.1 505.2,433.9 504.4,432.9 503.8,431.7 505.1,431.2 505.0,429.4 505.8,428.5 507.1,427.9 505.6,427.6 504.7,426.5 503.3,426.0 502.7,424.3 501.3,423.9 500.9,422.5 499.2,422.1 499.3,420.3 498.0,419.6 497.7,418.3 496.8,417.3 496.5,416.0 495.5,415.0Z" fill="#99ff99"/>
<path d="M511.2,485.4 518.1,485.3 525.0,485.1 531.9,484.9 538.7,484.7 545.6,484.4 552.5,484.1 559.4,483.8 566.3,483.4 573.1,483.0 573.3,484.4 572.7,485.7 572.6,487.0 571.1,488.0 571.3,489.4 571.0,490.7 570.6,492.0 572.0,492.5 573.3,492.2 574.6,491.8 576.0,492.2 577.3,491.8 578.6,491.4 580.0,491.4 579.2,492.7 578.9,494.2 577.8,495.3 577.5,496.8 577.4,498.4 576.4,499.6 576.0,501.0 575.0,502.3 575.9,503.8 576.2,505.3 575.8,507.0 574.5,507.5 573.8,508.7 572.7,509.5 572.1,510.9 570.8,511.9 570.7,513.5 570.1,514.9 569.8,516.7 569.2,518.5 568.9,519.9 568.4,521.3 567.0,522.1 566.5,523.4 566.0,524.7 564.4,525.3 564.2,526.8 563.0,527.6 562.8,529.0 562.1,530.2 562.0,531.6 561.5,532.9 561.7,534.3 561.2,535.6 562.6,536.5 562.8,538.1 563.2,539.6 563.2,541.0 562.0,542.3 561.5,543.7 562.1,545.2 555.2,545.5 548.3,545.7 541.3,545.9 534.4,546.1 527.5,546.2 520.5,546.3 520.4,541.7 520.3,537.0 513.8,535.6 513.9,527.9 514.0,520.1 514.1,512.4 514.2,504.7 513.2,498.2 512.2,491.8Z" fill="#99ff99"/>
<path d="M520.5,546.3 527.5,546.2 534.4,546.1 541.3,545.9 548.3,545.7 555.2,545.5 562.1,545.2 562.3,546.6 563.0,548.0 563.2,549.4 564.2,550.6 564.3,552.1 565.4,553.4 566.2,554.8 566.7,556.4 566.0,557.6 565.5,558.8 564.4,559.9 565.2,561.6 564.1,562.6 563.4,563.8 562.7,564.9 562.3,566.1 561.3,567.1 560.7,568.3 560.9,569.8 559.7,570.7 559.6,572.0 559.4,573.2 559.2,574.4 558.7,575.6 557.6,576.7 558.3,578.1 557.5,579.2 557.5,580.5 564.5,580.1 571.4,579.7 578.4,579.3 585.3,578.9 584.9,580.3 584.9,581.7 584.8,583.1 585.7,584.6 584.7,585.9 586.1,586.7 585.7,588.4 586.5,589.5 587.0,590.7 588.5,591.4 588.9,592.7 587.6,593.1 586.5,593.9 586.2,595.2 585.5,596.4 586.8,596.4 587.8,597.0 589.4,596.4 590.5,595.2 592.0,595.2 593.0,596.1 592.5,597.5 592.2,598.9 591.0,599.6 589.5,599.4 588.4,600.2 589.3,602.1 589.9,603.1 590.1,604.3 591.2,605.2 592.6,605.9 593.4,607.2 594.8,607.8 596.3,607.8 597.8,608.5 598.6,609.8 597.6,610.9 596.1,611.2 594.9,612.0 593.6,612.7 593.0,614.0 591.8,613.3 591.3,612.0 590.3,611.1 589.7,610.0 588.6,609.1 587.9,607.9 586.5,607.3 585.2,607.8 584.0,608.3 582.7,608.5 581.5,609.0 580.6,609.9 579.8,610.9 579.6,612.1 579.1,611.1 578.4,610.2 576.8,610.1 575.2,610.2 574.5,611.4 573.4,612.1 572.1,612.7 570.6,611.9 569.0,611.5 567.9,610.6 566.5,610.2 565.2,609.6 564.2,608.6 563.3,607.7 562.7,606.5 561.4,606.4 560.5,605.5 559.3,605.2 558.3,604.6 557.4,603.5 557.1,602.2 555.4,601.8 553.9,600.9 552.6,601.5 551.4,602.3 551.2,603.9 550.2,605.2 548.9,605.3 547.7,605.3 546.4,605.4 545.1,604.9 543.9,605.2 542.7,604.7 541.3,605.0 540.0,604.9 538.8,604.5 537.6,604.0 536.4,603.5 535.0,603.8 533.9,603.0 532.7,602.7 531.3,602.7 530.3,603.3 529.2,603.5 528.1,603.9 526.9,604.1 525.6,603.8 524.6,604.3 524.8,602.5 524.5,600.8 524.9,599.1 526.4,598.1 525.8,596.7 526.7,595.2 526.1,593.8 527.2,592.5 527.2,591.1 526.6,589.6 527.8,588.3 527.2,586.8 528.0,585.6 527.7,584.3 526.8,583.0 528.6,581.9 528.2,580.6 527.8,579.3 528.1,578.0 528.2,576.6 526.3,576.0 526.8,574.4 525.5,573.5 524.9,572.4 524.6,571.1 523.5,570.2 523.5,568.7 522.2,567.9 521.9,566.6 522.2,565.0 520.9,564.2 520.8,558.2 520.6,552.3Z" fill="#99ff99"/>
<path d="M538.8,305.8 539.8,305.8 540.7,305.6 541.8,305.8 542.7,305.2 543.7,305.0 544.7,304.8 545.6,304.2 546.6,304.3 547.5,303.7 548.5,303.8 549.5,303.6 550.4,303.3 551.1,302.5 552.0,302.0 552.6,301.1 553.5,300.8 553.5,302.0 553.5,303.2 553.6,304.5 553.2,305.7 553.3,306.9 554.2,306.7 555.2,307.2 556.2,307.3 557.1,307.1 558.1,307.2 559.1,307.1 559.7,308.4 560.8,309.1 561.7,310.1 562.9,310.7 567.1,311.7 571.2,312.7 575.4,313.7 576.7,314.1 577.8,314.9 579.2,314.9 580.4,315.6 581.7,315.8 582.8,314.8 584.1,315.3 585.3,315.7 585.8,317.1 587.3,317.1 588.0,318.4 589.5,318.8 591.1,319.1 591.2,320.4 591.8,321.5 592.0,322.7 592.8,323.7 593.7,324.6 594.1,325.8 593.8,327.4 594.4,328.7 595.1,330.1 594.3,330.9 593.4,331.7 592.9,332.7 592.3,333.8 592.4,335.0 591.8,336.0 591.8,337.1 591.8,338.3 591.6,339.4 591.0,340.4 592.0,340.0 592.6,339.1 593.6,338.7 594.0,337.5 594.9,337.0 595.4,335.9 596.3,335.4 597.0,334.7 597.9,334.2 598.4,333.2 598.7,332.1 599.7,331.5 599.9,330.4 600.4,329.4 601.2,328.7 601.5,327.6 602.2,326.8 602.5,325.9 602.1,326.9 601.7,327.9 601.4,328.9 601.3,330.0 600.8,331.0 600.6,332.1 600.3,333.1 599.5,334.0 599.4,335.4 598.7,336.4 598.3,337.6 597.7,338.6 597.6,339.9 597.3,341.3 596.9,342.2 597.1,343.4 596.6,344.4 596.8,345.5 596.2,346.5 596.0,347.5 596.2,348.8 596.3,350.0 595.8,351.2 596.0,352.4 595.9,353.7 595.4,354.7 595.5,355.9 595.8,357.1 595.8,358.2 595.1,359.3 595.3,360.4 595.2,361.6 594.8,362.6 595.4,363.9 595.0,365.0 594.7,366.1 594.6,367.3 594.9,368.4 595.6,369.5 595.7,370.7 595.7,371.9 596.4,373.0 596.3,374.2 596.6,375.6 590.5,376.1 584.5,376.6 578.5,377.0 572.5,377.4 566.4,377.8 560.4,378.2 559.4,377.2 558.0,376.8 556.7,376.2 556.0,374.7 554.7,374.1 554.4,372.8 553.6,371.6 553.8,370.2 553.4,368.9 552.7,367.7 553.1,366.3 552.8,365.0 553.0,363.6 552.6,362.3 552.2,361.1 552.3,359.7 551.6,358.5 552.2,357.1 551.5,355.8 550.3,355.3 549.0,354.8 548.0,353.9 547.3,352.6 546.3,351.7 545.2,351.1 544.6,349.9 543.4,349.3 542.7,348.4 542.2,347.0 541.3,346.2 539.9,345.7 538.6,345.1 537.6,344.0 536.2,343.8 535.0,343.1 533.6,342.5 532.5,341.3 531.6,340.1 531.1,338.8 530.9,337.5 532.1,336.1 531.4,334.8 531.1,333.3 531.8,331.9 531.9,330.5 533.0,328.7 531.7,328.1 531.3,326.5 530.1,325.8 530.9,324.4 531.0,322.7 532.3,321.8 533.1,320.5 533.9,319.1 535.3,318.9 536.0,317.6 537.0,316.7 537.2,315.4 536.8,314.2 536.5,313.0 536.3,311.8 537.0,310.5 536.2,309.3 536.9,308.0 536.6,306.8 537.6,306.0Z" fill="#99ff99"/>
<path d="M560.4,378.2 566.4,377.8 572.5,377.4 578.5,377.0 584.5,376.6 590.5,376.1 596.6,375.6 597.0,376.6 597.1,377.8 597.2,378.9 597.8,379.9 598.0,381.0 598.2,382.1 598.5,383.2 599.2,384.1 599.5,385.2 599.8,386.2 600.3,387.6 601.3,388.7 602.0,397.0 602.8,405.4 603.5,413.7 604.2,422.0 604.9,430.4 604.1,431.8 603.7,433.3 603.7,434.9 604.0,436.3 604.3,437.8 605.6,438.8 605.6,440.5 606.3,441.7 605.9,442.9 605.0,443.8 604.6,445.0 603.9,446.1 603.4,447.3 602.7,448.6 601.6,449.7 601.9,451.5 601.2,452.8 600.3,454.0 601.5,455.5 600.7,456.8 600.6,458.1 599.1,460.0 600.0,461.3 600.1,462.8 600.1,464.3 599.8,465.9 598.0,466.3 597.8,467.9 596.0,468.4 595.8,470.0 593.8,471.0 592.4,471.2 591.2,470.7 590.2,469.6 588.8,469.6 588.5,471.2 587.5,472.3 586.4,473.3 585.2,472.4 584.3,471.2 582.7,470.9 581.8,469.6 580.9,468.4 581.6,467.0 580.2,465.6 580.5,464.2 580.2,462.8 580.7,461.4 579.7,460.2 577.9,460.3 576.8,459.3 575.7,458.2 574.9,457.2 573.9,456.5 572.9,455.8 571.6,455.5 570.9,454.3 569.8,453.7 568.6,453.4 569.6,452.2 568.6,450.6 569.7,449.5 570.1,448.3 570.3,447.0 570.4,445.7 570.2,444.3 569.6,442.9 569.9,441.5 568.5,441.2 567.1,441.1 565.9,440.1 564.5,439.8 563.1,439.6 562.2,438.6 561.9,437.2 560.9,436.3 560.5,435.0 560.0,433.8 558.2,433.4 558.0,431.9 557.2,431.0 555.8,430.7 555.4,429.3 554.9,428.0 553.5,427.8 553.8,426.2 553.4,424.7 552.5,423.4 553.1,422.1 552.5,420.9 552.8,419.6 552.1,418.4 553.0,417.1 552.3,415.8 552.5,414.4 552.5,412.9 552.3,411.4 553.0,410.3 554.6,410.4 554.8,408.6 556.1,408.3 556.9,407.1 556.4,405.6 557.0,404.3 557.1,402.9 556.3,401.6 556.6,400.1 556.2,398.7 556.2,397.2 557.4,396.8 558.8,397.0 559.7,395.7 560.9,395.1 562.3,395.3 562.6,393.9 564.2,393.5 564.1,391.7 565.4,391.2 566.2,390.2 567.0,389.2 566.3,387.7 566.5,386.3 566.8,384.8 566.1,383.6 565.0,382.9 564.3,381.7 563.2,380.9 562.7,379.5 561.6,378.8Z" fill="#66cc66"/>
<path d="M601.3,388.7 602.4,389.5 603.8,389.6 605.0,390.3 606.0,389.6 607.3,389.5 608.1,388.3 609.3,388.2 610.3,387.4 615.4,386.8 620.6,386.3 625.8,385.7 631.0,385.2 636.2,384.6 636.3,385.6 637.1,393.2 638.0,400.7 638.8,408.3 639.7,415.9 640.5,423.4 641.4,431.0 640.2,432.0 640.8,433.8 640.1,435.0 638.8,436.0 638.8,437.5 637.5,438.2 636.1,438.3 634.7,438.3 634.0,439.6 633.3,440.9 632.6,442.1 632.3,443.6 631.4,444.5 631.4,445.9 630.6,446.9 630.6,448.4 630.2,449.7 629.2,450.8 628.4,451.9 626.9,452.4 625.4,452.2 623.9,452.1 622.4,452.5 621.0,452.7 619.8,453.2 618.8,454.2 617.4,453.9 616.4,454.9 615.6,456.1 614.4,456.7 613.2,457.3 611.8,457.1 610.6,456.3 609.3,455.5 608.0,455.1 606.6,454.9 605.5,455.9 604.5,456.8 602.9,456.8 602.1,458.1 600.6,458.1 600.7,456.8 601.5,455.5 600.3,454.0 601.2,452.8 601.9,451.5 601.6,449.7 602.7,448.6 603.4,447.3 603.9,446.1 604.6,445.0 605.0,443.8 605.9,442.9 606.3,441.7 605.6,440.5 605.6,438.8 604.3,437.8 604.0,436.3 603.7,434.9 603.7,433.3 604.1,431.8 604.9,430.4 604.2,422.0 603.5,413.7 602.8,405.4 602.0,397.0Z" fill="#66cc66"/>
<path d="M653.5,382.9 654.2,382.0 654.2,380.7 655.4,380.0 655.5,378.8 656.3,377.5 656.5,376.0 656.4,374.9 656.7,373.9 657.2,372.9 657.2,371.8 657.6,370.8 658.8,370.5 659.2,369.4 660.3,368.7 660.5,367.3 661.2,366.3 662.1,365.5 662.3,364.4 662.5,363.3 662.4,362.2 663.3,361.3 663.1,360.1 663.5,359.1 663.0,358.1 663.0,356.9 662.3,355.9 661.9,354.9 661.8,353.8 661.1,352.8 661.4,351.5 660.6,350.6 659.8,349.6 659.5,348.4 659.1,347.2 658.7,346.0 658.5,344.7 657.4,344.5 656.5,343.8 655.9,342.7 655.2,341.8 654.0,341.5 653.0,342.0 652.3,343.0 651.3,343.7 650.2,344.1 649.8,345.3 649.6,346.6 648.8,347.6 648.3,348.8 647.6,349.5 646.5,349.7 645.9,350.8 644.8,351.0 643.7,350.2 642.7,349.2 643.1,348.0 643.3,346.9 643.2,345.7 643.0,344.5 644.2,344.2 645.2,343.4 646.3,342.9 646.6,341.7 646.8,340.4 647.1,339.3 647.5,338.3 647.8,337.3 648.0,336.2 648.1,335.1 648.4,334.1 648.4,333.0 648.6,332.0 648.4,330.8 647.9,329.8 647.9,328.6 647.7,327.4 647.1,326.4 647.1,325.2 646.3,324.3 645.8,323.4 645.8,322.0 644.9,321.3 644.6,320.2 643.5,320.1 642.6,319.7 641.8,319.0 640.8,318.8 639.8,318.6 638.9,318.2 637.9,318.0 637.0,317.5 636.1,316.9 635.2,316.6 634.1,317.1 633.2,316.6 632.2,316.5 631.3,316.0 630.4,315.8 629.7,314.9 628.7,314.7 627.8,315.4 626.8,316.2 625.6,316.4 625.9,317.6 626.3,318.7 626.6,319.8 626.3,321.0 626.9,322.1 625.9,322.3 624.9,322.4 624.0,322.8 623.1,323.4 623.0,324.5 622.6,325.4 622.6,326.5 622.1,327.4 622.0,328.5 621.2,329.3 621.4,330.5 620.6,331.3 620.4,332.4 620.2,333.4 620.2,332.3 620.1,331.2 620.3,330.1 619.9,329.1 620.2,328.0 620.3,326.9 620.0,325.8 619.3,326.6 618.5,327.2 617.8,328.0 617.3,328.9 616.6,329.6 615.8,330.2 614.9,330.7 614.4,331.7 613.9,332.7 613.3,333.5 612.8,334.5 612.3,335.4 612.3,336.6 612.4,337.7 611.7,338.7 611.9,339.9 611.3,340.9 611.7,342.1 611.2,343.1 611.4,344.3 611.2,345.4 611.6,346.6 611.2,347.7 610.9,348.7 610.6,349.8 610.5,350.8 610.4,351.9 610.7,353.0 610.6,354.0 611.2,355.0 611.8,355.9 612.3,356.9 612.5,358.1 613.1,359.0 613.4,360.1 613.9,361.1 614.4,362.2 614.8,363.3 615.0,364.5 615.6,365.5 615.4,366.8 616.2,367.8 616.4,368.9 616.4,370.0 616.1,371.1 615.8,372.2 616.5,373.3 615.9,374.4 616.0,375.5 615.2,376.4 615.4,377.8 615.1,378.9 614.8,380.0 614.0,381.0 613.2,381.7 612.9,382.7 612.3,383.7 612.1,384.8 611.5,385.7 610.6,386.3 610.3,387.4 615.4,386.8 620.6,386.3 625.8,385.7 631.0,385.2 636.2,384.6 636.3,385.6 642.0,384.7 647.8,383.8Z" fill="#66cc66"/>
<path d="M559.1,307.1 559.9,306.6 560.8,306.1 561.6,305.5 562.3,304.7 563.3,304.4 564.4,304.4 565.1,303.5 566.1,303.3 566.8,302.6 567.6,301.8 568.6,301.6 569.6,301.0 570.8,301.5 571.9,301.0 572.8,300.4 573.8,300.1 574.7,299.2 575.7,299.0 576.7,298.4 577.5,297.7 578.2,296.9 579.1,296.3 579.9,295.6 580.3,294.4 581.1,293.7 582.1,293.6 582.7,292.8 583.3,291.9 584.4,291.8 585.0,291.0 585.7,290.4 586.4,289.7 587.3,289.4 588.3,289.8 589.2,290.0 590.1,290.4 589.7,291.6 588.4,292.0 587.8,293.1 587.1,294.1 586.6,295.2 585.5,295.5 584.7,296.2 584.3,297.4 583.3,297.9 582.9,299.0 582.9,300.2 582.3,301.1 582.4,302.3 583.4,302.2 584.3,301.5 585.2,301.3 586.1,300.6 586.9,299.9 587.8,299.6 588.8,299.2 589.5,300.1 590.3,300.6 591.4,300.9 592.0,302.0 592.8,302.7 593.7,303.2 594.5,304.0 595.3,304.7 596.3,305.1 597.2,305.6 598.3,305.4 599.4,305.4 600.3,306.0 601.4,305.9 602.4,306.4 603.4,306.2 604.5,306.1 605.4,305.8 605.9,304.6 607.2,304.8 607.6,303.5 608.6,303.2 609.3,302.4 610.2,301.9 611.3,301.8 612.0,301.0 613.0,300.8 613.8,300.2 614.8,300.2 615.8,300.4 616.6,299.9 617.4,299.0 618.4,299.2 619.3,298.9 620.3,298.7 621.1,298.2 622.1,297.8 623.1,298.3 624.1,297.9 624.5,299.0 624.1,300.1 624.2,301.2 624.8,302.3 624.7,303.4 625.8,303.5 626.8,303.1 627.7,302.3 628.7,302.2 629.8,302.2 630.9,302.3 631.8,301.7 632.5,302.4 633.4,303.1 633.8,304.2 634.5,304.9 635.3,305.6 636.3,305.9 637.4,306.0 638.2,307.1 639.1,307.6 640.0,308.2 641.3,307.8 642.2,308.4 643.1,309.0 642.1,309.2 641.2,309.6 640.2,309.6 639.3,310.1 638.4,310.5 637.4,310.4 636.4,310.4 635.5,310.5 634.5,310.5 633.5,310.8 632.5,311.0 631.6,311.7 630.5,311.9 629.7,312.7 628.7,313.1 627.7,312.5 626.7,312.0 625.7,311.6 624.7,311.1 623.5,311.3 622.5,310.7 621.8,311.4 620.7,311.3 619.9,312.0 618.9,312.0 618.1,312.5 617.1,312.5 616.1,312.6 615.2,313.1 614.3,313.3 613.3,313.5 612.2,313.9 611.2,313.9 610.1,313.8 609.5,314.6 608.6,315.2 608.2,316.2 607.4,316.8 606.8,317.6 606.3,318.5 606.5,320.3 605.9,319.3 605.1,318.7 604.3,318.1 603.5,317.3 602.4,317.3 601.8,316.3 601.1,317.2 600.5,318.2 599.7,319.1 599.9,320.5 598.7,321.3 598.7,322.6 598.2,323.7 597.6,324.5 597.3,325.5 596.9,326.4 596.2,327.2 595.7,328.1 595.8,329.3 595.1,330.1 594.4,328.7 593.8,327.4 594.1,325.8 593.7,324.6 592.8,323.7 592.0,322.7 591.8,321.5 591.2,320.4 591.1,319.1 589.5,318.8 588.0,318.4 587.3,317.1 585.8,317.1 585.3,315.7 584.1,315.3 582.8,314.8 581.7,315.8 580.4,315.6 579.2,314.9 577.8,314.9 576.7,314.1 575.4,313.7 571.2,312.7 567.1,311.7 562.9,310.7 561.7,310.1 560.8,309.1 559.7,308.4Z" fill="#66cc66"/>
<path d="M653.5,382.9 647.8,383.8 642.0,384.7 636.3,385.6 637.1,393.2 638.0,400.7 638.8,408.3 639.7,415.9 640.5,423.4 641.4,431.0 642.9,431.3 644.2,430.0 645.6,430.5 646.3,431.7 647.6,432.3 648.8,433.0 649.3,434.3 650.3,435.2 651.6,435.3 652.7,436.0 653.8,436.7 655.1,436.8 656.4,437.1 657.8,437.3 659.0,436.7 660.0,435.5 661.3,435.3 662.7,435.5 664.1,435.7 665.1,434.4 666.4,434.4 667.9,434.6 668.9,435.4 669.3,437.0 670.2,437.9 671.6,438.2 672.8,438.7 673.5,439.9 673.5,438.5 674.0,437.3 675.0,436.4 674.9,434.9 675.6,433.7 676.7,432.7 676.9,431.4 677.9,430.6 678.3,429.3 679.3,428.6 680.1,427.6 680.4,426.2 680.9,424.9 682.0,423.9 682.5,422.4 684.1,422.2 685.2,421.5 685.7,420.0 687.0,419.5 688.2,418.6 688.1,416.7 689.3,415.8 690.8,415.2 691.4,413.8 692.0,412.7 691.6,411.2 692.7,410.1 693.3,409.0 693.2,407.6 693.1,406.3 693.8,405.1 693.9,403.8 693.9,402.6 693.9,401.3 694.1,400.0 693.7,398.8 693.4,397.5 694.0,396.3 692.7,388.5 691.5,380.8 690.2,373.0 689.2,373.9 687.9,374.2 686.9,375.0 685.7,375.2 684.9,376.0 684.1,377.0 683.1,377.5 681.9,377.7 681.2,378.6 680.3,379.4 679.6,380.3 678.7,381.0 678.0,382.0 677.3,382.9 676.5,383.7 675.5,384.2 674.5,384.7 673.4,384.5 672.4,384.7 671.4,385.0 670.4,385.2 669.3,384.8 668.1,385.3 667.0,384.9 665.8,385.0 664.7,385.0 663.5,384.7 663.8,386.5 662.7,386.0 661.6,385.8 660.5,386.1 659.4,385.7 658.4,385.4 657.6,384.5 656.5,384.2 655.6,383.5 654.6,383.0Z" fill="#66cc66"/>
<path d="M600.6,458.1 602.1,458.1 602.9,456.8 604.5,456.8 605.5,455.9 606.6,454.9 608.0,455.1 609.3,455.5 610.6,456.3 611.8,457.1 613.2,457.3 614.4,456.7 615.6,456.1 616.4,454.9 617.4,453.9 618.8,454.2 619.8,453.2 621.0,452.7 622.4,452.5 623.9,452.1 625.4,452.2 626.9,452.4 628.4,451.9 629.2,450.8 630.2,449.7 630.6,448.4 630.6,446.9 631.4,445.9 631.4,444.5 632.3,443.6 632.6,442.1 633.3,440.9 634.0,439.6 634.7,438.3 636.1,438.3 637.5,438.2 638.8,437.5 638.8,436.0 640.1,435.0 640.8,433.8 640.2,432.0 641.4,431.0 642.9,431.3 644.2,430.0 645.6,430.5 646.3,431.7 647.6,432.3 648.8,433.0 649.3,434.3 650.3,435.2 651.6,435.3 652.7,436.0 653.8,436.7 655.1,436.8 656.4,437.1 657.8,437.3 659.0,436.7 660.0,435.5 661.3,435.3 662.7,435.5 664.1,435.7 665.1,434.4 666.4,434.4 667.9,434.6 668.9,435.4 669.3,437.0 670.2,437.9 671.6,438.2 672.8,438.7 673.5,439.9 673.6,441.6 673.8,443.3 674.7,444.4 675.1,445.8 675.2,447.3 676.3,448.3 677.2,449.7 678.5,450.8 679.4,452.1 681.2,452.8 682.2,454.3 681.6,455.5 680.1,455.8 679.3,456.8 678.7,458.0 677.9,458.9 677.4,460.2 676.5,461.1 675.0,461.5 674.5,462.8 673.1,463.3 672.3,464.5 672.4,466.2 670.5,466.5 670.0,467.8 669.4,469.0 668.0,469.6 666.6,470.1 665.8,471.6 664.4,472.1 662.2,472.7 656.2,473.5 650.1,474.2 644.1,475.0 637.2,475.6 630.3,476.1 623.4,476.7 617.2,477.2 610.9,477.6 604.7,478.1 601.7,477.8 602.2,480.9 595.5,481.5 588.8,482.0 582.1,482.4 582.1,481.6 583.5,481.2 584.8,480.8 586.2,480.4 586.9,479.0 585.8,477.6 586.1,476.2 587.0,474.8 586.4,473.3 587.5,472.3 588.5,471.2 588.8,469.6 590.2,469.6 591.2,470.7 592.4,471.2 593.8,471.0 595.8,470.0 596.0,468.4 597.8,467.9 598.0,466.3 599.8,465.9 600.1,464.3 600.1,462.8 600.0,461.3 599.1,460.0Z" fill="#99ff99"/>
<path d="M582.1,482.4 588.8,482.0 595.5,481.5 602.2,480.9 601.7,477.8 604.7,478.1 610.9,477.6 617.2,477.2 623.4,476.7 630.3,476.1 637.2,475.6 644.1,475.0 650.1,474.2 656.2,473.5 662.2,472.7 669.1,471.9 676.0,470.9 682.8,470.0 689.7,469.0 689.8,470.4 690.5,471.8 689.8,473.3 689.5,474.7 688.0,475.1 686.9,475.9 686.8,477.4 685.9,478.3 684.6,478.6 683.5,479.4 682.1,479.5 681.1,480.6 679.5,480.2 678.5,481.1 677.3,482.0 675.6,481.5 674.5,482.6 673.5,483.8 672.0,484.3 671.5,485.9 670.1,486.7 669.2,488.1 667.5,488.8 667.1,490.5 665.8,491.1 664.4,491.7 663.1,492.4 661.9,493.1 660.4,493.3 659.0,494.0 658.2,494.9 658.3,496.7 656.9,497.3 657.2,498.8 657.6,500.3 656.9,501.7 650.8,502.5 644.8,503.2 638.7,503.9 632.7,504.5 626.6,505.1 620.5,505.7 614.4,506.3 608.4,506.8 602.3,507.4 596.4,507.8 590.4,508.3 584.5,508.7 578.6,509.1 572.7,509.5 573.8,508.7 574.5,507.5 575.8,507.0 576.2,505.3 575.9,503.8 575.0,502.3 576.0,501.0 576.4,499.6 577.4,498.4 577.5,496.8 577.8,495.3 578.9,494.2 579.2,492.7 580.0,491.4 580.3,490.1 580.7,488.9 580.7,487.5 580.8,486.2 581.3,484.9 581.4,483.6Z" fill="#66cc66"/>
<path d="M572.7,509.5 578.6,509.1 584.5,508.7 590.4,508.3 596.4,507.8 602.3,507.4 603.9,509.2 603.7,518.0 603.5,526.7 603.4,535.5 603.2,544.3 603.0,553.1 602.8,561.9 603.6,569.2 604.5,576.5 605.3,583.7 606.1,591.0 605.2,589.7 603.7,588.9 602.4,588.7 601.0,589.0 599.8,588.3 598.4,588.5 597.3,589.0 596.0,589.3 594.8,589.5 593.8,590.4 592.6,590.7 591.4,591.4 590.3,592.2 588.9,592.7 588.5,591.4 587.0,590.7 586.5,589.5 585.7,588.4 586.1,586.7 584.7,585.9 585.7,584.6 584.8,583.1 584.9,581.7 584.9,580.3 585.3,578.9 578.4,579.3 571.4,579.7 564.5,580.1 557.5,580.5 557.5,579.2 558.3,578.1 557.6,576.7 558.7,575.6 559.2,574.4 559.4,573.2 559.6,572.0 559.7,570.7 560.9,569.8 560.7,568.3 561.3,567.1 562.3,566.1 562.7,564.9 563.4,563.8 564.1,562.6 565.2,561.6 564.4,559.9 565.5,558.8 566.0,557.6 566.7,556.4 566.2,554.8 565.4,553.4 564.3,552.1 564.2,550.6 563.2,549.4 563.0,548.0 562.3,546.6 562.1,545.2 561.5,543.7 562.0,542.3 563.2,541.0 563.2,539.6 562.8,538.1 562.6,536.5 561.2,535.6 561.7,534.3 561.5,532.9 562.0,531.6 562.1,530.2 562.8,529.0 563.0,527.6 564.2,526.8 564.4,525.3 566.0,524.7 566.5,523.4 567.0,522.1 568.4,521.3 568.9,519.9 569.2,518.5 569.8,516.7 570.1,514.9 570.7,513.5 570.8,511.9 572.1,510.9Z" fill="#99ff99"/>
<path d="M602.3,507.4 608.4,506.8 614.4,506.3 620.5,505.7 626.6,505.1 632.7,504.5 638.7,503.9 640.8,511.2 642.8,518.5 644.9,525.7 647.0,533.0 649.0,540.3 650.4,541.2 651.0,542.5 651.0,544.0 651.2,545.5 652.4,546.4 652.0,547.8 652.2,549.1 652.7,550.4 652.3,551.8 652.5,553.1 652.2,554.4 652.4,555.8 651.8,557.1 652.6,558.4 651.9,560.0 653.0,561.2 652.5,562.8 653.7,563.9 654.1,565.2 652.8,566.6 653.9,567.9 653.5,569.2 654.1,570.3 655.0,571.3 655.4,572.5 649.0,573.2 642.6,573.9 636.2,574.6 629.8,575.3 623.3,575.9 616.9,576.5 617.9,577.4 618.8,578.4 618.3,580.0 619.1,581.0 619.5,582.2 620.5,583.1 619.6,584.5 620.2,586.1 620.2,587.5 619.2,588.9 618.1,589.5 616.9,589.9 615.6,590.2 614.4,590.3 613.0,589.8 611.8,590.4 612.4,589.2 613.0,588.1 614.1,587.2 613.3,586.3 613.7,585.0 612.5,584.2 612.7,583.0 610.7,582.3 610.6,583.3 610.5,584.4 610.7,585.5 609.9,586.5 610.1,587.6 608.9,587.7 607.8,588.7 607.0,589.9 606.1,591.0 605.3,583.7 604.5,576.5 603.6,569.2 602.8,561.9 603.0,553.1 603.2,544.3 603.4,535.5 603.5,526.7 603.7,518.0 603.9,509.2Z" fill="#99ff99"/>
<path d="M638.7,503.9 644.8,503.2 650.8,502.5 656.9,501.7 662.5,501.0 668.2,500.3 673.8,499.5 673.1,500.6 673.1,501.9 672.0,502.9 672.3,504.4 671.2,505.2 672.2,506.5 673.9,506.6 675.2,507.3 676.6,508.0 678.1,508.1 679.0,509.1 679.8,510.2 680.2,511.7 682.2,511.8 682.6,513.3 683.1,514.7 684.8,515.1 685.6,516.2 686.5,517.3 687.6,518.1 688.6,519.1 690.0,519.6 690.6,521.0 691.7,521.8 692.9,522.5 693.7,523.7 694.3,525.0 696.2,525.0 696.4,526.7 697.4,527.6 699.2,527.7 699.1,529.7 701.2,529.6 701.7,531.0 702.5,532.1 703.5,533.1 704.5,534.1 704.5,535.8 706.4,536.3 706.3,537.9 707.4,538.9 708.3,540.1 709.0,541.4 709.4,542.8 709.7,544.2 709.9,545.6 711.9,545.7 713.7,546.3 713.2,547.8 711.9,548.9 712.0,550.0 711.0,550.9 711.3,552.2 710.1,553.0 710.6,554.3 709.7,555.3 709.4,556.3 709.1,557.4 709.3,558.5 708.7,559.5 708.0,560.5 708.5,561.7 708.1,562.7 708.2,563.8 707.9,565.0 707.9,566.1 708.3,567.1 708.5,568.2 708.3,569.4 708.5,570.4 701.7,569.9 699.9,571.0 700.8,577.1 699.8,577.8 697.5,574.6 691.7,575.2 685.9,575.9 679.0,576.3 672.0,576.6 665.0,577.0 658.1,577.3 655.4,572.5 655.0,571.3 654.1,570.3 653.5,569.2 653.9,567.9 652.8,566.6 654.1,565.2 653.7,563.9 652.5,562.8 653.0,561.2 651.9,560.0 652.6,558.4 651.8,557.1 652.4,555.8 652.2,554.4 652.5,553.1 652.3,551.8 652.7,550.4 652.2,549.1 652.0,547.8 652.4,546.4 651.2,545.5 651.0,544.0 651.0,542.5 650.4,541.2 649.0,540.3 647.0,533.0 644.9,525.7 642.8,518.5 640.8,511.2Z" fill="#339966"/>
<path d="M655.4,572.5 649.0,573.2 642.6,573.9 636.2,574.6 629.8,575.3 623.3,575.9 616.9,576.5 617.9,577.4 618.8,578.4 618.3,580.0 619.1,581.0 619.5,582.2 620.5,583.1 619.6,584.5 620.2,586.1 620.2,587.5 619.2,588.9 620.5,588.9 621.5,587.9 622.7,587.7 623.9,587.6 625.1,587.4 626.1,586.7 627.4,587.2 628.5,586.4 629.8,586.9 630.9,586.8 632.0,585.9 633.2,586.2 634.3,585.7 635.4,586.0 636.7,585.9 637.5,587.0 638.7,587.2 639.9,587.3 641.1,587.3 642.2,587.5 643.3,588.1 644.5,588.0 645.7,588.2 646.7,588.8 647.1,590.0 648.4,590.5 649.1,591.5 649.8,592.4 650.5,593.4 651.0,594.5 652.2,595.1 652.8,596.2 654.0,595.5 655.3,595.1 656.8,595.2 658.0,594.7 659.1,594.0 660.1,593.2 661.4,592.9 662.5,592.2 664.0,592.4 665.1,591.7 666.4,591.4 667.4,590.4 668.4,589.4 668.8,587.9 670.0,586.9 671.3,587.0 672.5,587.5 673.8,587.5 675.1,587.8 676.2,588.4 677.2,589.2 678.0,590.0 679.1,590.6 679.9,591.5 681.5,591.5 682.1,592.6 683.2,593.3 684.0,594.3 684.8,595.3 685.0,596.6 686.1,597.4 686.7,598.4 687.6,599.3 688.1,600.3 688.9,601.1 690.1,601.7 690.8,602.8 692.3,603.0 693.2,604.0 694.5,604.4 694.5,605.5 695.0,606.6 695.3,607.7 695.9,608.7 695.7,609.9 695.9,611.0 696.0,612.1 696.0,613.2 695.7,614.2 695.7,615.3 694.7,616.3 695.1,617.5 694.6,618.6 694.6,619.8 694.8,621.0 694.8,622.2 696.1,622.8 696.1,624.0 696.4,625.0 696.7,626.0 697.6,626.8 697.7,625.5 698.3,624.5 699.6,623.6 700.0,622.5 699.8,621.2 700.6,620.2 700.0,621.3 699.6,622.5 700.1,623.7 700.0,624.9 699.5,626.1 699.3,627.3 698.6,628.4 699.8,629.2 700.2,630.4 700.7,631.6 701.6,632.5 702.3,633.6 702.7,634.8 703.2,635.7 703.8,636.6 704.3,637.6 704.6,638.6 705.2,639.5 705.8,640.4 706.8,641.2 707.3,642.3 708.1,643.3 709.0,644.2 709.7,645.1 710.3,646.2 711.4,646.7 712.6,647.2 713.6,647.8 713.9,649.1 715.2,649.5 715.5,650.6 715.6,651.8 716.0,652.8 716.9,653.6 717.8,654.4 719.3,654.5 720.4,655.1 721.2,656.0 722.1,656.7 723.4,657.1 724.4,657.7 725.5,658.5 725.6,659.8 726.3,660.8 726.7,661.9 727.2,663.0 727.6,664.1 728.8,664.9 730.4,664.8 732.0,664.7 733.3,664.1 734.7,663.8 736.1,663.3 737.5,663.0 738.9,662.4 738.9,661.2 739.7,660.1 740.1,659.0 740.0,657.8 740.2,656.6 740.4,655.4 741.7,654.4 741.9,653.2 741.9,651.9 742.5,650.7 742.4,649.6 741.4,648.5 742.1,647.3 741.8,646.2 742.2,645.1 741.7,644.1 741.8,643.0 741.1,642.1 741.9,640.9 741.1,640.0 741.4,638.9 741.5,637.8 741.1,636.8 741.1,635.8 740.5,634.8 740.5,633.7 739.9,632.7 739.8,631.6 739.0,630.7 738.6,629.7 737.6,628.8 737.5,627.6 736.4,626.8 736.4,625.3 735.7,624.3 734.8,623.3 733.8,622.6 734.0,621.3 733.2,620.4 732.8,619.3 732.1,618.3 730.9,617.6 731.2,616.1 729.8,615.4 729.6,614.2 728.9,613.2 728.9,612.0 728.3,610.8 728.6,609.6 728.4,608.4 728.5,607.1 727.9,606.0 726.5,605.5 725.6,604.7 725.6,603.1 724.3,602.5 723.3,601.9 722.9,600.9 722.5,599.8 722.0,598.8 721.0,598.2 720.2,597.4 720.1,596.2 719.3,595.4 719.2,594.3 718.5,593.4 718.0,592.4 717.6,591.4 717.0,590.5 716.5,589.5 715.8,588.7 715.0,587.9 714.7,586.8 714.4,585.7 713.4,585.1 712.9,584.1 712.7,582.9 711.6,582.0 711.3,580.9 711.2,579.6 711.3,578.3 710.4,577.4 710.2,576.2 709.9,575.0 709.4,573.9 709.0,572.8 708.8,571.6 708.5,570.4 701.7,569.9 699.9,571.0 700.8,577.1 699.8,577.8 697.5,574.6 691.7,575.2 685.9,575.9 679.0,576.3 672.0,576.6 665.0,577.0 658.1,577.3Z" fill="#339966"/>
<path d="M741.2,509.1 734.9,504.6 728.6,500.1 722.4,495.6 717.2,496.4 711.9,497.1 706.7,497.8 704.1,493.3 702.2,492.3 696.4,493.1 690.5,493.8 684.7,494.5 679.3,497.0 673.8,499.5 673.1,500.6 673.1,501.9 672.0,502.9 672.3,504.4 671.2,505.2 672.2,506.5 673.9,506.6 675.2,507.3 676.6,508.0 678.1,508.1 679.0,509.1 679.8,510.2 680.2,511.7 682.2,511.8 682.6,513.3 683.1,514.7 684.8,515.1 685.6,516.2 686.5,517.3 687.6,518.1 688.6,519.1 690.0,519.6 690.6,521.0 691.7,521.8 692.9,522.5 693.7,523.7 694.3,525.0 696.2,525.0 696.4,526.7 697.4,527.6 699.2,527.7 699.1,529.7 701.2,529.6 701.7,531.0 702.5,532.1 703.5,533.1 704.5,534.1 704.5,535.8 706.4,536.3 706.3,537.9 707.4,538.9 708.3,540.1 709.0,541.4 709.4,542.8 709.7,544.2 709.9,545.6 711.9,545.7 713.7,546.3 714.6,545.2 715.3,544.1 715.9,542.9 716.6,541.9 716.9,540.6 717.5,539.6 717.5,538.2 718.2,537.2 719.3,536.7 719.9,535.7 721.0,535.2 721.9,534.5 722.5,533.5 723.7,533.1 724.5,532.3 725.4,531.5 726.3,530.7 727.2,529.9 728.1,529.1 729.1,528.3 729.4,527.1 730.4,526.2 732.5,525.9 733.3,524.6 733.4,523.1 734.3,522.0 735.1,521.0 734.7,519.8 735.3,518.9 735.3,517.7 735.5,516.7 736.2,515.7 736.2,514.6 736.6,513.6 737.0,512.6 738.0,511.7 738.8,510.5 740.0,509.8Z" fill="#66cc66"/>
<path d="M769.0,455.2 762.4,456.5 755.8,457.8 749.2,459.1 742.6,460.4 736.0,461.6 729.4,462.7 722.8,463.9 716.2,465.0 709.6,466.0 702.9,467.1 696.3,468.1 689.7,469.0 689.8,470.4 690.5,471.8 689.8,473.3 689.5,474.7 688.0,475.1 686.9,475.9 686.8,477.4 685.9,478.3 684.6,478.6 683.5,479.4 682.1,479.5 681.1,480.6 679.5,480.2 678.5,481.1 677.3,482.0 675.6,481.5 674.5,482.6 673.5,483.8 672.0,484.3 671.5,485.9 670.1,486.7 669.2,488.1 667.5,488.8 667.1,490.5 665.8,491.1 664.4,491.7 663.1,492.4 661.9,493.1 660.4,493.3 659.0,494.0 658.2,494.9 658.3,496.7 656.9,497.3 657.2,498.8 657.6,500.3 656.9,501.7 662.5,501.0 668.2,500.3 673.8,499.5 668.2,500.3 662.5,501.0 656.9,501.7 662.5,501.0 668.2,500.3 673.8,499.5 679.3,497.0 684.7,494.5 690.5,493.8 696.4,493.1 702.2,492.3 704.1,493.3 706.7,497.8 711.9,497.1 717.2,496.4 722.4,495.6 728.6,500.1 734.9,504.6 741.2,509.1 742.5,509.4 743.6,508.7 744.7,508.6 745.8,508.0 747.0,507.8 748.3,508.2 749.4,507.6 749.2,506.5 749.8,505.4 750.1,504.4 750.3,503.3 750.7,502.2 750.6,501.1 751.5,500.3 752.1,499.4 752.4,498.3 753.3,497.5 753.9,496.6 754.6,495.8 755.2,494.8 755.6,496.1 756.8,496.8 757.6,496.0 758.9,495.7 759.7,494.8 760.5,493.9 761.6,493.4 762.3,492.4 763.5,492.0 764.7,491.7 765.5,490.5 766.5,489.8 767.8,489.5 767.6,488.1 768.1,486.8 767.1,485.9 766.0,485.1 765.6,483.9 766.0,482.7 765.5,481.5 765.8,480.3 764.8,479.6 764.0,478.8 763.3,477.8 764.4,477.1 765.6,477.2 766.6,476.5 767.9,476.8 769.0,476.2 770.2,475.9 771.2,475.4 771.9,474.5 772.5,473.5 773.6,473.1 774.3,472.2 774.4,471.0 774.6,469.8 775.3,468.8 774.2,468.1 773.5,466.9 772.4,466.5 771.3,466.9 770.2,467.2 769.0,467.1 767.9,467.3 766.8,467.2 765.6,467.5 764.5,467.3 763.3,467.7 762.1,467.7 761.0,467.6 761.8,466.4 763.1,466.3 764.3,465.5 765.7,465.6 766.8,464.7 768.0,464.7 769.2,464.3 770.4,464.0 771.4,463.4 772.7,463.2 773.5,462.6 773.2,461.5 772.7,460.5 771.8,459.8 771.0,459.0 770.4,458.1 770.4,456.9 769.6,456.1Z" fill="#339966"/>
<path d="M757.8,431.0 756.5,430.2 755.5,428.9 754.2,428.1 752.8,427.6 751.6,428.2 750.2,427.3 749.1,428.3 747.8,428.2 746.2,428.0 744.9,426.9 743.4,426.4 743.6,425.0 744.3,423.9 745.3,422.9 746.2,421.3 747.8,420.3 746.3,420.1 745.6,418.4 744.0,418.4 742.8,417.6 741.3,417.2 740.6,415.4 739.0,415.2 737.7,414.5 736.6,414.0 735.2,414.2 734.2,413.2 733.0,413.9 731.6,413.4 730.3,413.8 729.0,412.9 727.7,413.5 727.0,414.5 726.3,415.5 725.8,416.6 725.1,417.7 725.2,419.1 724.9,420.5 723.3,420.7 722.4,421.7 722.1,423.1 721.1,423.8 720.2,424.7 720.3,426.3 719.1,427.3 718.7,428.7 717.8,429.8 717.9,431.4 716.4,431.3 714.9,430.8 713.3,430.8 713.4,432.3 711.8,433.1 711.2,434.3 711.9,436.1 710.8,437.1 710.2,438.3 709.5,439.3 709.0,440.5 708.4,441.7 707.5,442.6 706.9,443.7 707.0,445.2 706.8,446.8 706.0,448.1 704.1,448.8 703.9,450.4 702.5,450.9 701.2,451.5 699.8,452.0 699.1,453.7 697.6,454.0 696.2,453.8 695.2,454.9 694.4,456.1 693.1,456.3 691.9,456.8 690.7,457.4 689.5,457.7 688.1,457.4 686.8,457.0 685.8,455.8 684.5,455.5 683.1,455.3 682.2,454.3 681.6,455.5 680.1,455.8 679.3,456.8 678.7,458.0 677.9,458.9 677.4,460.2 676.5,461.1 675.0,461.5 674.5,462.8 673.1,463.3 672.3,464.5 672.4,466.2 670.5,466.5 670.0,467.8 669.4,469.0 668.0,469.6 666.6,470.1 665.8,471.6 664.4,472.1 662.2,472.7 669.1,471.9 676.0,470.9 682.8,470.0 689.7,469.0 696.3,468.1 702.9,467.1 709.6,466.0 716.2,465.0 722.8,463.9 729.4,462.7 736.0,461.6 742.6,460.4 749.2,459.1 755.8,457.8 762.4,456.5 769.0,455.2 768.2,454.2 768.5,452.8 767.7,451.9 767.2,450.8 766.1,450.7 765.4,449.7 764.1,449.8 763.4,448.9 762.9,447.9 762.0,447.1 761.9,445.9 760.9,445.2 760.5,444.0 760.9,442.7 760.7,441.4 760.3,440.2 760.1,438.9 759.7,437.7 759.7,436.4 758.9,435.4 758.7,434.3 758.2,433.3 758.1,432.1Z" fill="#66cc66"/>
<path d="M764.7,431.0 764.3,436.8 764.7,443.5 765.9,445.6 768.0,443.5 768.9,438.5 769.3,433.5 770.7,429.1Z" fill="#66cc66"/>
<path d="M694.0,396.3 693.4,397.5 693.7,398.8 694.1,400.0 693.9,401.3 693.9,402.6 693.9,403.8 693.8,405.1 693.1,406.3 693.2,407.6 693.3,409.0 692.7,410.1 691.6,411.2 692.0,412.7 691.4,413.8 690.8,415.2 689.3,415.8 688.1,416.7 688.2,418.6 687.0,419.5 685.7,420.0 685.2,421.5 684.1,422.2 682.5,422.4 682.0,423.9 680.9,424.9 680.4,426.2 680.1,427.6 679.3,428.6 678.3,429.3 677.9,430.6 676.9,431.4 676.7,432.7 675.6,433.7 674.9,434.9 675.0,436.4 674.0,437.3 673.5,438.5 673.5,439.9 673.6,441.6 673.8,443.3 674.7,444.4 675.1,445.8 675.2,447.3 676.3,448.3 677.2,449.7 678.5,450.8 679.4,452.1 681.2,452.8 682.2,454.3 683.1,455.3 684.5,455.5 685.8,455.8 686.8,457.0 688.1,457.4 689.5,457.7 690.7,457.4 691.9,456.8 693.1,456.3 694.4,456.1 695.2,454.9 696.2,453.8 697.6,454.0 699.1,453.7 699.8,452.0 701.2,451.5 702.5,450.9 703.9,450.4 704.1,448.8 706.0,448.1 706.8,446.8 707.0,445.2 706.9,443.7 707.5,442.6 708.4,441.7 709.0,440.5 709.5,439.3 710.2,438.3 710.8,437.1 711.9,436.1 711.2,434.3 711.8,433.1 713.4,432.3 713.3,430.8 714.9,430.8 716.4,431.3 717.9,431.4 717.8,429.8 718.7,428.7 719.1,427.3 720.3,426.3 720.2,424.7 721.1,423.8 722.1,423.1 722.4,421.7 723.3,420.7 724.9,420.5 725.2,419.1 725.1,417.7 725.8,416.6 726.3,415.5 727.0,414.5 727.7,413.5 729.0,412.9 730.3,413.8 731.6,413.4 733.0,413.9 734.2,413.2 734.2,411.6 733.8,410.2 732.7,409.1 731.2,409.1 729.8,408.2 728.3,408.6 726.5,408.9 725.2,410.3 724.2,411.4 722.5,411.1 721.7,412.8 720.2,412.9 718.9,413.4 717.6,414.0 716.6,415.0 715.7,416.2 713.9,416.0 712.9,417.0 712.0,418.2 712.4,416.7 711.2,415.4 712.3,413.9 711.9,412.5 710.6,411.2 711.2,409.7 706.4,410.3 701.6,411.0 696.9,411.6 695.4,403.9Z" fill="#ccffcc"/>
<path d="M758.8,399.4 752.9,400.8 747.0,402.1 741.0,403.4 735.1,404.8 729.1,406.0 723.1,407.3 717.1,408.5 711.2,409.7 710.6,411.2 711.9,412.5 712.3,413.9 711.2,415.4 712.4,416.7 712.0,418.2 712.9,417.0 713.9,416.0 715.7,416.2 716.6,415.0 717.6,414.0 718.9,413.4 720.2,412.9 721.7,412.8 722.5,411.1 724.2,411.4 725.2,410.3 726.5,408.9 728.3,408.6 729.8,408.2 731.2,409.1 732.7,409.1 733.8,410.2 734.2,411.6 734.2,413.2 735.2,414.2 736.6,414.0 737.7,414.5 739.0,415.2 740.6,415.4 741.3,417.2 742.8,417.6 744.0,418.4 745.6,418.4 746.3,420.1 747.8,420.3 746.2,421.3 745.3,422.9 744.3,423.9 743.6,425.0 743.4,426.4 744.9,426.9 746.2,428.0 747.8,428.2 749.1,428.3 750.2,427.3 751.6,428.2 752.8,427.6 754.2,428.1 755.5,428.9 756.5,430.2 757.8,431.0 755.9,426.0 754.2,420.9 753.0,415.1 753.8,410.1 755.1,405.9 756.0,405.2 756.8,405.5 755.9,410.1 757.2,415.9 758.0,420.9 759.7,425.1 762.6,428.9 764.7,431.0 770.7,429.1 772.6,426.8 773.0,420.8 769.1,421.2 765.1,421.6 763.0,414.2 760.9,406.8Z" fill="#66cc66"/>
<path d="M758.8,399.4 760.8,398.0 762.6,398.2 762.2,400.9 763.4,405.0 765.9,408.0 766.8,410.9 769.3,413.4 772.2,415.1 772.8,418.4 773.0,420.8 769.1,421.2 765.1,421.6 763.0,414.2 760.9,406.8Z" fill="#99ff99"/>
<path d="M690.2,373.0 691.1,372.5 691.8,371.7 692.7,371.2 693.2,370.2 694.0,369.6 695.0,369.2 696.2,368.9 696.8,367.5 698.0,367.2 699.0,366.4 699.0,368.0 699.2,369.6 699.8,371.1 705.9,370.0 712.1,368.9 718.3,367.7 724.5,366.5 730.6,365.3 736.8,364.1 743.0,362.8 749.1,361.5 755.2,360.2 756.3,361.6 757.8,362.3 758.7,363.6 759.7,364.9 760.7,366.2 762.0,366.5 762.4,367.9 763.8,367.7 765.0,368.3 766.1,369.2 765.0,370.2 764.4,371.5 764.6,373.2 763.8,374.4 762.6,375.6 762.1,377.2 763.3,379.1 762.6,380.4 762.2,382.0 762.8,384.2 764.2,385.3 765.3,386.7 766.4,387.2 767.7,387.6 768.2,389.2 769.6,389.3 769.4,391.2 768.5,392.2 767.8,393.4 766.6,394.1 766.2,395.5 765.0,396.4 763.4,396.7 762.6,398.2 760.8,398.0 758.8,399.4 752.9,400.8 747.0,402.1 741.0,403.4 735.1,404.8 729.1,406.0 723.1,407.3 717.1,408.5 711.2,409.7 706.4,410.3 701.6,411.0 696.9,411.6 695.4,403.9 694.0,396.3 692.7,388.5 691.5,380.8Z" fill="#99ff99"/>
<path d="M762.6,398.2 763.4,396.7 765.0,396.4 766.2,395.5 766.6,394.1 767.8,393.4 768.5,392.2 769.4,391.2 769.6,389.3 768.2,389.2 767.7,387.6 766.4,387.2 765.3,386.7 764.2,385.3 762.8,384.2 762.2,382.0 762.6,380.4 763.3,379.1 762.1,377.2 762.6,375.6 763.8,374.4 764.6,373.2 764.4,371.5 765.0,370.2 766.1,369.2 771.8,371.2 777.6,373.1 777.5,374.2 777.8,375.3 777.7,376.4 777.0,377.5 777.1,378.6 775.8,379.8 775.3,381.2 775.1,382.7 776.2,382.7 777.3,382.4 778.4,382.4 778.8,383.6 778.8,384.8 779.2,385.9 779.5,387.0 780.0,388.1 780.0,389.1 779.4,390.2 779.9,391.2 779.9,392.3 780.2,393.3 779.7,394.5 780.0,395.9 779.8,397.2 779.3,398.4 779.2,399.5 778.4,400.4 777.9,401.4 777.7,402.5 776.8,403.4 776.3,404.5 775.9,405.6 775.6,406.7 775.1,407.8 774.7,408.9 773.7,409.7 773.5,410.9 772.2,410.1 773.1,408.7 773.0,407.1 772.1,406.6 770.9,406.4 770.1,405.5 769.1,405.6 768.1,406.1 767.0,405.9 765.9,406.3 765.0,405.3 764.1,404.2 763.0,403.4 762.7,402.1 762.9,400.8 762.3,399.5Z" fill="#66cc66"/>
<path d="M699.0,366.4 699.5,365.5 700.2,364.7 701.2,364.3 701.6,363.3 702.5,362.8 703.5,362.3 704.0,361.4 704.8,360.6 704.9,359.4 705.8,358.7 706.2,357.8 706.6,356.7 707.5,356.0 707.9,355.0 708.1,353.9 707.2,353.1 706.9,351.9 706.0,351.1 705.8,349.8 704.9,349.0 704.6,347.8 705.2,346.8 706.5,347.1 707.3,346.5 708.1,345.9 708.8,345.1 709.9,345.4 710.8,344.7 711.7,344.3 712.7,344.4 713.7,344.4 714.7,344.5 715.7,344.8 716.7,344.6 717.6,344.1 718.7,344.2 719.7,343.7 720.7,344.0 721.7,344.3 722.8,344.2 723.9,344.2 724.9,343.9 725.9,343.1 726.9,343.0 728.1,343.2 729.0,342.2 730.1,342.2 730.9,341.6 731.4,340.6 732.7,340.8 733.2,339.8 734.3,339.5 735.1,339.0 735.7,338.0 736.6,337.4 737.3,336.6 738.0,335.7 738.9,335.0 738.5,333.8 738.5,332.4 738.0,331.2 737.8,329.9 737.5,328.8 736.7,328.0 736.2,327.0 735.4,326.3 736.4,325.9 736.6,324.5 737.6,324.1 738.2,323.2 739.0,322.6 739.6,321.6 739.8,320.5 740.9,320.0 741.4,319.2 741.8,318.2 741.9,317.0 742.7,316.4 742.8,315.2 743.4,314.4 744.3,313.9 744.7,312.7 745.9,312.4 746.5,311.5 747.3,310.8 748.1,310.2 748.9,309.5 749.6,308.6 750.6,308.2 751.2,307.3 752.1,306.8 753.2,307.1 754.0,306.6 755.0,306.6 755.8,305.7 756.8,305.8 757.8,306.1 758.6,305.3 759.7,305.5 760.5,304.7 761.6,305.2 762.4,304.4 763.4,304.7 764.4,304.6 765.1,303.6 766.1,303.7 767.0,303.3 768.0,303.3 768.8,304.4 768.3,305.8 768.8,307.0 769.6,308.1 770.1,309.2 769.3,310.7 770.1,311.8 770.2,313.1 770.2,314.3 771.4,315.4 771.1,316.7 770.5,318.1 770.7,319.3 771.5,320.4 771.3,322.0 772.9,323.0 772.2,324.6 772.9,325.9 773.2,327.2 775.2,327.7 776.7,334.5 778.3,341.3 778.3,347.6 778.3,353.9 779.5,360.4 780.8,366.9 779.3,370.8 780.7,372.3 779.4,375.3 777.3,378.6 777.8,375.7 777.6,373.1 771.8,371.2 766.1,369.2 765.0,368.3 763.8,367.7 762.4,367.9 762.0,366.5 760.7,366.2 759.7,364.9 758.7,363.6 757.8,362.3 756.3,361.6 755.2,360.2 749.1,361.5 743.0,362.8 736.8,364.1 730.6,365.3 724.5,366.5 718.3,367.7 712.1,368.9 705.9,370.0 699.8,371.1 699.2,369.6 699.0,368.0Z" fill="#66cc66"/>
<path d="M778.3,353.9 783.6,352.7 789.0,351.5 794.3,350.2 799.6,349.0 800.8,355.1 802.0,361.2 801.0,361.5 799.9,361.6 799.0,362.0 797.9,362.4 797.0,363.2 796.0,363.7 795.0,363.8 794.0,364.2 793.2,364.8 792.1,364.9 791.0,364.6 790.2,365.6 789.1,365.4 788.1,365.8 787.2,366.4 786.4,367.1 785.7,368.0 784.3,368.6 783.5,369.8 782.6,370.6 781.9,371.8 780.7,372.3 779.3,370.8 780.8,366.9 779.5,360.4Z" fill="#99ff99"/>
<path d="M802.0,361.2 800.8,355.1 799.6,349.0 804.8,347.8 805.8,349.7 807.1,352.1 809.4,353.3 810.4,355.7 809.4,354.7 808.0,354.6 807.0,353.5 806.1,352.3 806.1,353.7 806.5,355.0 806.3,356.0 806.1,357.1 806.9,358.2 806.6,359.3 805.5,359.9 804.2,360.2 803.3,361.1Z" fill="#ccffcc"/>
<path d="M778.3,341.3 783.3,340.3 788.4,339.2 793.2,338.1 798.0,337.1 802.8,336.0 804.8,333.6 807.9,331.5 808.8,332.2 809.8,332.9 810.9,333.5 811.6,334.5 811.2,335.5 810.6,336.4 809.9,337.1 809.2,337.9 808.7,338.8 808.3,339.9 808.1,340.9 809.1,341.1 810.1,341.4 811.0,341.9 811.7,342.9 812.8,343.5 812.9,345.0 814.0,345.7 814.8,346.4 815.6,347.2 816.2,348.0 816.9,348.9 818.1,348.3 819.4,348.1 820.7,348.4 821.9,347.7 823.0,346.8 822.3,345.7 821.4,344.8 820.4,344.0 819.3,343.3 819.2,342.9 821.2,342.8 821.9,344.2 823.1,345.0 823.3,346.3 824.1,347.5 824.2,348.8 823.0,348.9 822.1,349.7 821.1,350.2 820.1,350.7 819.0,351.0 818.4,351.9 817.4,352.3 816.7,353.1 816.0,353.9 816.1,352.5 815.3,351.2 815.5,349.8 815.0,350.8 813.8,351.3 813.2,352.2 812.7,353.3 812.1,354.3 811.4,355.1 810.4,355.7 809.4,353.3 807.1,352.1 805.8,349.7 804.8,347.8 799.6,349.0 794.3,350.2 789.0,351.5 783.6,352.7 778.3,353.9 778.3,347.6Z" fill="#99ff99"/>
<path d="M768.0,303.3 773.5,301.9 779.0,300.5 784.5,299.1 790.0,297.6 790.5,299.4 790.6,300.9 790.8,302.3 791.6,303.7 791.4,305.2 790.3,306.6 790.3,308.5 789.7,309.6 789.6,311.0 788.8,311.9 788.4,313.2 787.2,313.8 787.1,315.2 787.3,316.5 787.1,318.0 786.6,319.3 786.2,320.7 786.1,322.2 785.5,324.0 786.0,325.9 785.8,327.2 786.2,328.4 786.0,329.7 786.7,330.8 786.8,332.1 787.5,333.3 787.3,334.6 788.0,336.0 788.5,337.5 788.4,339.2 783.3,340.3 778.3,341.3 776.7,334.5 775.2,327.7 773.2,327.2 772.9,325.9 772.2,324.6 772.9,323.0 771.3,322.0 771.5,320.4 770.7,319.3 770.5,318.1 771.1,316.7 771.4,315.4 770.2,314.3 770.2,313.1 770.1,311.8 769.3,310.7 770.1,309.2 769.6,308.1 768.8,307.0 768.3,305.8 768.8,304.4Z" fill="#ccffcc"/>
<path d="M790.0,297.6 790.4,296.2 790.1,294.7 790.1,293.2 791.5,292.9 792.7,292.4 793.7,291.4 796.0,298.6 798.3,305.8 800.5,313.0 802.9,320.2 804.3,324.7 808.4,327.7 807.9,331.5 804.8,333.6 802.8,336.0 798.0,337.1 793.2,338.1 788.4,339.2 788.5,337.5 788.0,336.0 787.3,334.6 787.5,333.3 786.8,332.1 786.7,330.8 786.0,329.7 786.2,328.4 785.8,327.2 786.0,325.9 785.5,324.0 786.1,322.2 786.2,320.7 786.6,319.3 787.1,318.0 787.3,316.5 787.1,315.2 787.2,313.8 788.4,313.2 788.8,311.9 789.6,311.0 789.7,309.6 790.3,308.5 790.3,306.6 791.4,305.2 791.6,303.7 790.8,302.3 790.6,300.9 790.5,299.4Z" fill="#99ff99"/>
<path d="M793.7,291.4 795.2,291.8 796.6,291.5 796.3,290.1 796.6,288.8 796.6,287.4 797.3,286.4 798.7,286.0 799.1,284.8 799.5,283.7 799.9,282.5 800.3,281.0 800.0,279.5 799.9,278.0 799.8,276.5 799.8,275.0 799.1,273.7 799.7,272.3 800.2,271.0 800.7,269.6 801.1,268.2 800.5,267.0 800.5,265.7 799.9,264.4 802.6,256.8 805.2,249.2 805.9,250.4 807.0,250.9 808.4,250.7 809.3,251.5 810.1,252.5 810.9,251.4 812.4,251.6 813.3,250.6 814.2,249.9 814.8,248.6 815.9,248.1 817.0,248.0 818.2,248.1 819.3,248.5 820.3,249.2 821.4,249.8 822.2,251.0 823.4,250.8 825.4,257.3 827.3,263.8 829.2,270.3 829.6,272.1 830.8,273.5 832.2,273.7 833.5,274.6 834.9,274.0 835.2,275.4 835.2,277.0 836.6,278.0 836.6,279.5 837.7,280.1 839.0,280.4 839.9,281.2 840.9,281.9 841.8,282.8 843.2,282.9 844.0,284.0 844.8,285.4 844.3,286.2 843.7,287.1 843.4,288.1 842.8,288.9 841.7,289.3 840.9,290.2 840.1,290.9 839.2,291.6 838.6,292.4 838.3,293.7 837.4,294.3 836.2,294.4 835.3,295.1 834.5,296.1 833.3,296.3 832.6,297.4 831.7,298.3 831.3,299.7 830.9,300.8 829.9,301.4 829.3,302.4 828.4,303.3 827.3,304.0 826.6,305.1 825.7,305.4 824.9,306.1 824.1,306.7 823.2,307.1 822.8,308.4 822.1,309.5 821.2,310.5 820.3,311.2 819.4,311.9 818.1,311.8 817.2,312.5 816.3,313.0 815.5,313.6 814.7,314.1 813.8,314.5 812.9,315.3 812.6,316.4 812.1,317.4 811.8,318.6 811.3,319.5 810.9,320.5 810.5,321.5 810.4,322.6 810.4,323.8 809.5,324.6 809.1,325.6 808.8,326.7 808.4,327.7 804.3,324.7 802.9,320.2 800.5,313.0 798.3,305.8 796.0,298.6Z" fill="#ccffcc"/>
<path d="M779.4,375.7 781.0,373.1 785.2,370.5 790.5,367.3 795.7,365.2 800.0,364.7 802.1,366.3 800.5,367.8 797.3,370.5 792.6,373.6 787.3,376.2 782.1,378.3 778.4,379.9 777.9,377.3Z" fill="#66cc66"/>
<path d="M179.3,229.7 181.8,228.8 183.9,228.6 182.8,231.6 181.1,232.4Z" fill="#339966"/>
<path d="M814.7,355.4 817.3,354.7 818.9,355.7 816.8,356.8Z" fill="#99ff99"/>
<path d="M822.0,355.7 824.7,355.0 826.8,355.7 824.4,356.5Z" fill="#99ff99"/>
<path d="M571.5,285.1 576.0,280.9 581.0,277.7 580.2,279.4 575.5,283.1 572.6,285.4Z" fill="#66cc66"/>
<path d="M616.9,576.5 617.9,577.4 618.8,578.4 618.3,580.0 619.1,581.0 619.5,582.2 620.5,583.1 619.6,584.5 620.2,586.1 620.2,587.5 619.2,588.9" fill="none" style="stroke:#10281a;stroke-width:0.8"/>
<path d="M649.0,540.3 650.4,541.2 651.0,542.5 651.0,544.0 651.2,545.5 652.4,546.4 652.0,547.8 652.2,549.1 652.7,550.4 652.3,551.8 652.5,553.1 652.2,554.4 652.4,555.8 651.8,557.1 652.6,558.4 651.9,560.0 653.0,561.2 652.5,562.8 653.7,563.9 654.1,565.2 652.8,566.6 653.9,567.9 653.5,569.2 654.1,570.3 655.0,571.3 655.4,572.5" fill="none" style="stroke:#10281a;stroke-width:0.8"/>
<path d="M573.1,483.0 573.3,484.4 572.7,485.7 572.6,487.0 571.1,488.0 571.3,489.4 571.0,490.7 570.6,492.0 572.0,492.5 573.3,492.2 574.6,491.8 576.0,492.2 577.3,491.8 578.6,491.4 580.0,491.4" fill="none" style="stroke:#10281a;stroke-width:0.8"/>
<path d="M572.7,509.5 572.1,510.9 570.8,511.9 570.7,513.5 570.1,514.9 569.8,516.7 569.2,518.5 568.9,519.9 568.4,521.3 567.0,522.1 566.5,523.4 566.0,524.7 564.4,525.3 564.2,526.8 563.0,527.6 562.8,529.0 562.1,530.2 562.0,531.6 561.5,532.9 561.7,534.3 561.2,535.6 562.6,536.5 562.8,538.1 563.2,539.6 563.2,541.0 562.0,542.3 561.5,543.7 562.1,545.2" fill="none" style="stroke:#10281a;stroke-width:1.1"/>
<path d="M580.0,491.4 579.2,492.7 578.9,494.2 577.8,495.3 577.5,496.8 577.4,498.4 576.4,499.6 576.0,501.0 575.0,502.3 575.9,503.8 576.2,505.3 575.8,507.0 574.5,507.5 573.8,508.7 572.7,509.5" fill="none" style="stroke:#10281a;stroke-width:1.1"/>
<path d="M221.1,525.1 222.3,524.1 223.7,523.2 224.4,521.8 225.1,520.4 224.3,519.0 224.3,517.6 223.6,516.3 223.6,514.9 223.5,513.4 225.2,513.0 225.6,511.3 226.9,510.5 226.8,509.0 228.4,508.1 229.1,506.8 228.6,505.1 229.3,503.9 231.1,503.6 231.8,502.0 232.7,500.7 234.4,500.4 233.6,499.0 232.0,498.0 231.8,496.3 231.9,495.0 231.8,493.7 231.3,492.5 230.1,491.4 230.4,490.0 230.1,488.8 230.3,487.5 230.2,486.1" fill="none" style="stroke:#10281a;stroke-width:0.8"/>
<path d="M713.7,546.3 711.9,545.7 709.9,545.6 709.7,544.2 709.4,542.8 709.0,541.4 708.3,540.1 707.4,538.9 706.3,537.9 706.4,536.3 704.5,535.8 704.5,534.1 703.5,533.1 702.5,532.1 701.7,531.0 701.2,529.6 699.1,529.7 699.2,527.7 697.4,527.6 696.4,526.7 696.2,525.0 694.3,525.0 693.7,523.7 692.9,522.5 691.7,521.8 690.6,521.0 690.0,519.6 688.6,519.1 687.6,518.1 686.5,517.3 685.6,516.2 684.8,515.1 683.1,514.7 682.6,513.3 682.2,511.8 680.2,511.7 679.8,510.2 679.0,509.1 678.1,508.1 676.6,508.0 675.2,507.3 673.9,506.6 672.2,506.5 671.2,505.2 672.3,504.4 672.0,502.9 673.1,501.9 673.1,500.6 673.8,499.5" fill="none" style="stroke:#10281a;stroke-width:0.8"/>
<path d="M560.4,378.2 561.6,378.8 562.7,379.5 563.2,380.9 564.3,381.7 565.0,382.9 566.1,383.6 566.8,384.8 566.5,386.3 566.3,387.7 567.0,389.2 566.2,390.2 565.4,391.2 564.1,391.7 564.2,393.5 562.6,393.9 562.3,395.3 560.9,395.1 559.7,395.7 558.8,397.0 557.4,396.8 556.2,397.2 556.2,398.7 556.6,400.1 556.3,401.6 557.1,402.9 557.0,404.3 556.4,405.6 556.9,407.1 556.1,408.3 554.8,408.6 554.6,410.4 553.0,410.3 552.3,411.4 552.5,412.9 552.5,414.4 552.3,415.8" fill="none" style="stroke:#10281a;stroke-width:1.1"/>
<path d="M548.0,412.5 549.2,413.2 550.3,414.0 551.5,414.7 552.3,415.8" fill="none" style="stroke:#10281a;stroke-width:0.8"/>
<path d="M552.2,361.1 552.6,362.3 553.0,363.6 552.8,365.0 553.1,366.3 552.7,367.7 553.4,368.9 553.8,370.2 553.6,371.6 554.4,372.8 554.7,374.1 556.0,374.7 556.7,376.2 558.0,376.8 559.4,377.2 560.4,378.2" fill="none" style="stroke:#10281a;stroke-width:1.1"/>
<path d="M258.2,259.5 259.0,260.5 259.4,261.7 259.7,263.0 260.3,264.1 260.6,265.3 261.0,266.8 260.4,268.2 260.3,269.7 260.8,271.0 262.1,271.3 263.0,272.1 263.8,273.1 264.9,273.7 264.5,275.5 265.4,276.3 266.1,277.2 266.7,278.2 267.4,279.1 268.5,279.7 268.4,281.4 270.1,281.4 270.5,282.7 271.0,283.8 271.3,285.1 272.8,285.3 273.3,286.5 273.1,287.8 272.0,288.6 271.4,289.7 271.3,291.0 270.9,292.2 269.9,293.2 270.3,294.8 270.0,296.1 268.9,297.0 269.3,298.6 268.8,299.8 268.0,300.9 267.7,302.2 269.0,302.9 269.2,304.6 270.2,305.4 271.2,305.9 271.8,307.2 273.1,307.4 274.1,307.9 275.0,308.7 275.8,309.7 275.7,311.2 276.2,312.4 276.4,313.8 277.4,314.6 278.7,315.2 278.7,316.7 279.3,318.0 280.1,319.2 280.4,320.6 281.2,321.7 281.9,322.8 282.9,323.7 282.4,325.6 283.2,326.6 284.2,327.5 285.4,328.0 286.7,327.7 288.0,327.1 289.2,328.0 290.5,327.7 291.8,327.3 293.0,327.8 294.3,327.1 295.4,328.6 296.7,327.9 298.3,327.5 299.5,328.7 301.0,328.6 301.4,327.4 302.7,326.8 302.8,325.4 303.9,326.0 304.0,327.4 304.8,328.3 305.0,330.0 306.3,330.9" fill="none" style="stroke:#10281a;stroke-width:0.8"/>
<path d="M604.9,430.4 604.1,431.8 603.7,433.3 603.7,434.9 604.0,436.3 604.3,437.8 605.6,438.8 605.6,440.5 606.3,441.7 605.9,442.9 605.0,443.8 604.6,445.0 603.9,446.1 603.4,447.3 602.7,448.6 601.6,449.7 601.9,451.5 601.2,452.8 600.3,454.0 601.5,455.5 600.7,456.8 600.6,458.1" fill="none" style="stroke:#10281a;stroke-width:0.8"/>
<path d="M586.4,473.3 587.5,472.3 588.5,471.2 588.8,469.6 590.2,469.6 591.2,470.7 592.4,471.2 593.8,471.0 595.8,470.0 596.0,468.4 597.8,467.9 598.0,466.3 599.8,465.9 600.1,464.3 600.1,462.8 600.0,461.3 599.1,460.0 600.6,458.1" fill="none" style="stroke:#10281a;stroke-width:1.1"/>
<path d="M600.6,458.1 602.1,458.1 602.9,456.8 604.5,456.8 605.5,455.9 606.6,454.9 608.0,455.1 609.3,455.5 610.6,456.3 611.8,457.1 613.2,457.3 614.4,456.7 615.6,456.1 616.4,454.9 617.4,453.9 618.8,454.2 619.8,453.2 621.0,452.7 622.4,452.5 623.9,452.1 625.4,452.2 626.9,452.4 628.4,451.9 629.2,450.8 630.2,449.7 630.6,448.4 630.6,446.9 631.4,445.9 631.4,444.5 632.3,443.6 632.6,442.1 633.3,440.9 634.0,439.6 634.7,438.3 636.1,438.3 637.5,438.2 638.8,437.5 638.8,436.0 640.1,435.0 640.8,433.8 640.2,432.0 641.4,431.0" fill="none" style="stroke:#10281a;stroke-width:1.1"/>
<path d="M501.3,423.9 502.7,424.3 503.3,426.0 504.7,426.5 505.6,427.6 507.1,427.9 505.8,428.5 505.0,429.4 505.1,431.2 503.8,431.7 504.4,432.9 505.2,433.9 506.0,435.1 506.8,436.2 507.4,437.5 508.8,437.8 510.1,438.0 510.8,439.3" fill="none" style="stroke:#10281a;stroke-width:0.8"/>
<path d="M682.2,454.3 681.6,455.5 680.1,455.8 679.3,456.8 678.7,458.0 677.9,458.9 677.4,460.2 676.5,461.1 675.0,461.5 674.5,462.8 673.1,463.3 672.3,464.5 672.4,466.2 670.5,466.5 670.0,467.8 669.4,469.0 668.0,469.6 666.6,470.1 665.8,471.6 664.4,472.1 662.2,472.7" fill="none" style="stroke:#10281a;stroke-width:0.8"/>
<path d="M673.5,439.9 673.6,441.6 673.8,443.3 674.7,444.4 675.1,445.8 675.2,447.3 676.3,448.3 677.2,449.7 678.5,450.8 679.4,452.1 681.2,452.8 682.2,454.3" fill="none" style="stroke:#10281a;stroke-width:0.8"/>
<path d="M562.1,545.2 562.3,546.6 563.0,548.0 563.2,549.4 564.2,550.6 564.3,552.1 565.4,553.4 566.2,554.8 566.7,556.4 566.0,557.6 565.5,558.8 564.4,559.9 565.2,561.6 564.1,562.6 563.4,563.8 562.7,564.9 562.3,566.1 561.3,567.1 560.7,568.3 560.9,569.8 559.7,570.7 559.6,572.0 559.4,573.2 559.2,574.4 558.7,575.6 557.6,576.7 558.3,578.1 557.5,579.2 557.5,580.5" fill="none" style="stroke:#10281a;stroke-width:1.1"/>
<path d="M585.3,578.9 584.9,580.3 584.9,581.7 584.8,583.1 585.7,584.6 584.7,585.9 586.1,586.7 585.7,588.4 586.5,589.5 587.0,590.7 588.5,591.4 588.9,592.7" fill="none" style="stroke:#10281a;stroke-width:1.1"/>
<path d="M734.2,413.2 734.2,411.6 733.8,410.2 732.7,409.1 731.2,409.1 729.8,408.2 728.3,408.6 726.5,408.9 725.2,410.3 724.2,411.4 722.5,411.1 721.7,412.8 720.2,412.9 718.9,413.4 717.6,414.0 716.6,415.0 715.7,416.2 713.9,416.0 712.9,417.0 712.0,418.2 712.4,416.7 711.2,415.4 712.3,413.9 711.9,412.5 710.6,411.2 711.2,409.7" fill="none" style="stroke:#10281a;stroke-width:0.8"/>
<path d="M793.7,291.4 795.2,291.8 796.6,291.5 796.3,290.1 796.6,288.8 796.6,287.4 797.3,286.4 798.7,286.0 799.1,284.8 799.5,283.7 799.9,282.5 800.3,281.0 800.0,279.5 799.9,278.0 799.8,276.5 799.8,275.0 799.1,273.7 799.7,272.3 800.2,271.0 800.7,269.6 801.1,268.2 800.5,267.0 800.5,265.7 799.9,264.4" fill="none" style="stroke:#10281a;stroke-width:0.8"/>
<path d="M805.2,249.2 805.9,250.4 807.0,250.9 808.4,250.7 809.3,251.5 810.1,252.5 810.9,251.4 812.4,251.6 813.3,250.6 814.2,249.9 814.8,248.6 815.9,248.1 817.0,248.0 818.2,248.1 819.3,248.5 820.3,249.2 821.4,249.8 822.2,251.0 823.4,250.8" fill="none" style="stroke:#10281a;stroke-width:0.8"/>
<path d="M829.2,270.3 829.6,272.1 830.8,273.5 832.2,273.7 833.5,274.6 834.9,274.0 835.2,275.4 835.2,277.0 836.6,278.0 836.6,279.5 837.7,280.1 839.0,280.4 839.9,281.2 840.9,281.9 841.8,282.8 843.2,282.9 844.0,284.0 844.8,285.4" fill="none" style="stroke:#10281a;stroke-width:0.8"/>
<path d="M538.8,305.8 537.6,306.0 536.6,306.8 536.9,308.0 536.2,309.3 537.0,310.5 536.3,311.8 536.5,313.0 536.8,314.2 537.2,315.4 537.0,316.7 536.0,317.6 535.3,318.9 533.9,319.1 533.1,320.5 532.3,321.8 531.0,322.7 530.9,324.4 530.1,325.8 531.3,326.5 531.7,328.1 533.0,328.7 531.9,330.5 531.8,331.9 531.1,333.3 531.4,334.8 532.1,336.1 530.9,337.5 531.1,338.8 531.6,340.1 532.5,341.3 533.6,342.5 535.0,343.1 536.2,343.8 537.6,344.0 538.6,345.1 539.9,345.7 541.3,346.2 542.2,347.0 542.7,348.4 543.4,349.3 544.6,349.9 545.2,351.1 546.3,351.7 547.3,352.6 548.0,353.9 549.0,354.8 550.3,355.3 551.5,355.8 552.2,357.1 551.6,358.5 552.3,359.7 552.2,361.1" fill="none" style="stroke:#10281a;stroke-width:0.8"/>
<path d="M552.3,415.8 553.0,417.1 552.1,418.4 552.8,419.6 552.5,420.9 553.1,422.1 552.5,423.4 553.4,424.7 553.8,426.2 553.5,427.8 554.9,428.0 555.4,429.3 555.8,430.7 557.2,431.0 558.0,431.9 558.2,433.4 560.0,433.8 560.5,435.0 560.9,436.3 561.9,437.2 562.2,438.6 563.1,439.6 564.5,439.8 565.9,440.1 567.1,441.1 568.5,441.2 569.9,441.5 569.6,442.9 570.2,444.3 570.4,445.7 570.3,447.0 570.1,448.3 569.7,449.5 568.6,450.6 569.6,452.2 568.6,453.4 569.8,453.7 570.9,454.3 571.6,455.5 572.9,455.8 573.9,456.5 574.9,457.2 575.7,458.2 576.8,459.3 577.9,460.3 579.7,460.2 580.7,461.4 580.2,462.8 580.5,464.2 580.2,465.6 581.6,467.0 580.9,468.4 581.8,469.6 582.7,470.9 584.3,471.2 585.2,472.4 586.4,473.3" fill="none" style="stroke:#10281a;stroke-width:1.1"/>
<path d="M586.4,473.3 587.0,474.8 586.1,476.2 585.8,477.6 586.9,479.0 586.2,480.4 584.8,480.8 583.5,481.2 582.1,481.6 582.1,482.4" fill="none" style="stroke:#10281a;stroke-width:1.1"/>
<path d="M582.1,482.4 581.4,483.6 581.3,484.9 580.8,486.2 580.7,487.5 580.7,488.9 580.3,490.1 580.0,491.4" fill="none" style="stroke:#10281a;stroke-width:1.1"/>
<path d="M477.8,267.0 478.0,268.2 477.6,269.5 477.5,270.7 478.4,271.9 479.1,273.0 477.9,274.4 478.7,275.6 478.2,276.9 478.5,278.1 478.8,279.3 479.3,280.5 480.1,281.6 480.2,282.9 479.7,284.2 480.4,285.3 481.0,286.5 480.3,288.1 481.5,289.0 481.8,290.3 481.4,291.7 482.0,292.9 482.1,294.1 482.1,295.3 481.9,296.6 482.4,297.7 481.9,299.0 482.0,300.2 482.1,301.4 483.3,302.5 482.7,303.8 482.7,305.2 483.7,306.3 483.5,307.7 483.1,309.2 483.5,310.5 484.8,311.5 484.9,312.8 484.8,314.2 484.9,315.7 484.4,317.2 484.7,318.6 485.3,320.0" fill="none" style="stroke:#10281a;stroke-width:1.1"/>
<path d="M486.3,380.3 487.2,381.3 486.9,382.7 487.6,383.9 487.7,385.2 487.6,386.6 488.9,387.5 488.9,388.9 488.9,390.2 488.9,391.6 489.4,392.8 490.9,393.7 490.5,395.2 491.4,396.3 491.4,397.6 491.4,399.3 492.2,400.5 493.0,401.8 492.8,403.4 494.1,404.8 493.8,406.4 493.9,407.8 494.3,409.2 493.5,410.6 494.0,412.0 495.1,413.8" fill="none" style="stroke:#10281a;stroke-width:1.1"/>
<path d="M495.1,413.8 495.5,415.0 496.5,416.0 496.8,417.3 497.7,418.3 498.0,419.6 499.3,420.3 499.2,422.1 500.9,422.5 501.3,423.9" fill="none" style="stroke:#10281a;stroke-width:0.8"/>
<path d="M790.0,297.6 790.4,296.2 790.1,294.7 790.1,293.2 791.5,292.9 792.7,292.4 793.7,291.4" fill="none" style="stroke:#10281a;stroke-width:0.8"/>
<path d="M788.4,339.2 788.5,337.5 788.0,336.0 787.3,334.6 787.5,333.3 786.8,332.1 786.7,330.8 786.0,329.7 786.2,328.4 785.8,327.2 786.0,325.9 785.5,324.0 786.1,322.2 786.2,320.7 786.6,319.3 787.1,318.0 787.3,316.5 787.1,315.2 787.2,313.8 788.4,313.2 788.8,311.9 789.6,311.0 789.7,309.6 790.3,308.5 790.3,306.6 791.4,305.2 791.6,303.7 790.8,302.3 790.6,300.9 790.5,299.4 790.0,297.6" fill="none" style="stroke:#10281a;stroke-width:0.8"/>
<path d="M762.6,398.2 763.4,396.7 765.0,396.4 766.2,395.5 766.6,394.1 767.8,393.4 768.5,392.2 769.4,391.2 769.6,389.3 768.2,389.2 767.7,387.6 766.4,387.2 765.3,386.7 764.2,385.3 762.8,384.2 762.2,382.0 762.6,380.4 763.3,379.1 762.1,377.2 762.6,375.6 763.8,374.4 764.6,373.2 764.4,371.5 765.0,370.2 766.1,369.2" fill="none" style="stroke:#10281a;stroke-width:0.8"/>
<path d="M230.2,486.1 231.0,484.5 231.7,482.9 231.7,481.4 231.5,480.0 231.7,478.6 232.3,477.2 232.0,475.7 232.3,474.5 232.0,473.2 232.5,472.0 231.4,470.7 231.5,469.5 232.2,468.3 233.9,468.7 235.5,468.3 237.1,467.8 238.8,468.0 240.4,468.4 242.1,467.9" fill="none" style="stroke:#10281a;stroke-width:0.8"/>
<path d="M768.0,303.3 768.8,304.4 768.3,305.8 768.8,307.0 769.6,308.1 770.1,309.2 769.3,310.7 770.1,311.8 770.2,313.1 770.2,314.3 771.4,315.4 771.1,316.7 770.5,318.1 770.7,319.3 771.5,320.4 771.3,322.0 772.9,323.0 772.2,324.6 772.9,325.9 773.2,327.2 775.2,327.7" fill="none" style="stroke:#10281a;stroke-width:0.8"/>
<path d="M641.4,431.0 642.9,431.3 644.2,430.0 645.6,430.5 646.3,431.7 647.6,432.3 648.8,433.0 649.3,434.3 650.3,435.2 651.6,435.3 652.7,436.0 653.8,436.7 655.1,436.8 656.4,437.1 657.8,437.3 659.0,436.7 660.0,435.5 661.3,435.3 662.7,435.5 664.1,435.7 665.1,434.4 666.4,434.4 667.9,434.6 668.9,435.4 669.3,437.0 670.2,437.9 671.6,438.2 672.8,438.7 673.5,439.9" fill="none" style="stroke:#10281a;stroke-width:1.1"/>
<path d="M673.5,439.9 673.5,438.5 674.0,437.3 675.0,436.4 674.9,434.9 675.6,433.7 676.7,432.7 676.9,431.4 677.9,430.6 678.3,429.3 679.3,428.6 680.1,427.6 680.4,426.2 680.9,424.9 682.0,423.9 682.5,422.4 684.1,422.2 685.2,421.5 685.7,420.0 687.0,419.5 688.2,418.6 688.1,416.7 689.3,415.8 690.8,415.2 691.4,413.8 692.0,412.7 691.6,411.2 692.7,410.1 693.3,409.0 693.2,407.6 693.1,406.3 693.8,405.1 693.9,403.8 693.9,402.6 693.9,401.3 694.1,400.0 693.7,398.8 693.4,397.5 694.0,396.3" fill="none" style="stroke:#10281a;stroke-width:0.8"/>
<path d="M513.8,535.6 512.3,535.6 511.0,535.1 509.8,534.3 508.8,533.4 507.3,533.3 506.4,532.0 505.0,531.8 503.6,531.4 502.1,531.4 500.7,531.4 499.2,531.2 497.7,531.1 496.7,532.0 495.8,533.2 494.6,533.9 493.4,534.3 492.1,534.7 490.7,534.0 489.4,533.3 488.0,532.6 486.5,532.3 484.9,532.4 483.5,532.6 482.2,532.9 480.7,532.7 479.5,533.2 478.1,533.3 476.7,533.2 475.5,534.1 474.0,534.3 472.9,533.3 471.9,532.2 470.2,532.8 469.1,531.9 467.5,531.2 465.7,531.7 464.1,530.9 463.3,529.6 463.2,528.0 462.0,526.8 460.5,527.4 459.2,526.4 457.7,526.9 456.3,526.6 454.9,526.3 453.4,526.4 452.0,525.8 450.7,525.2 449.2,525.3 448.0,524.7 447.3,523.3 445.9,523.0 444.6,522.5 443.6,521.6 442.2,521.4 440.8,521.8 439.3,521.7 438.6,520.5 437.3,520.0 436.4,519.0 435.2,518.4" fill="none" style="stroke:#10281a;stroke-width:1.1"/>
<path d="M240.7,291.2 241.2,292.5 242.0,293.8 242.5,295.2 243.7,296.1 243.6,298.0 244.5,299.2 243.5,300.1 243.2,301.8 242.6,303.1 241.2,303.8 240.2,304.8 239.0,305.6 238.6,307.3 237.7,308.4 237.1,309.5 236.3,310.5 234.9,310.9 234.3,312.1 232.9,313.0 232.5,314.7 231.6,315.9 231.0,317.6 230.5,319.3 232.0,319.9 233.0,321.0 233.5,322.6 233.2,323.9 232.7,325.1 232.1,326.9 230.9,328.3" fill="none" style="stroke:#10281a;stroke-width:0.8"/>
<path d="M699.0,366.4 699.0,368.0 699.2,369.6 699.8,371.1" fill="none" style="stroke:#10281a;stroke-width:0.8"/>
<path d="M755.2,360.2 756.3,361.6 757.8,362.3 758.7,363.6 759.7,364.9 760.7,366.2 762.0,366.5 762.4,367.9 763.8,367.7 765.0,368.3 766.1,369.2" fill="none" style="stroke:#10281a;stroke-width:0.8"/>
<path d="M486.4,362.6 484.5,362.6 485.0,364.3 485.1,366.1 485.0,367.4 485.7,368.5 486.4,369.6 485.3,370.8 486.1,372.7 485.1,373.9 486.0,375.0 486.0,376.4 486.1,377.7 486.2,379.0 486.3,380.3" fill="none" style="stroke:#10281a;stroke-width:0.8"/>
<path d="M485.3,320.0 484.8,321.4 484.4,322.8 483.0,323.4 481.9,324.3 481.7,325.9 482.9,326.3 482.9,328.2 483.9,328.8 484.7,329.7 485.3,330.8 486.6,331.1" fill="none" style="stroke:#10281a;stroke-width:0.8"/>
<path d="M486.3,380.3 485.1,379.9 484.3,378.8 483.2,378.3 481.7,377.7 480.3,377.0 479.4,375.6 478.1,375.2 476.9,374.4 475.4,374.5 474.3,373.5 473.0,373.9 471.8,373.6 470.5,373.2 469.2,373.1 468.0,373.7 467.0,373.0 466.0,372.2 464.5,373.1 463.6,372.4 462.6,371.4 461.5,371.3 460.4,370.9" fill="none" style="stroke:#10281a;stroke-width:0.8"/>
<path d="M689.7,469.0 689.8,470.4 690.5,471.8 689.8,473.3 689.5,474.7 688.0,475.1 686.9,475.9 686.8,477.4 685.9,478.3 684.6,478.6 683.5,479.4 682.1,479.5 681.1,480.6 679.5,480.2 678.5,481.1 677.3,482.0 675.6,481.5 674.5,482.6 673.5,483.8 672.0,484.3 671.5,485.9 670.1,486.7 669.2,488.1 667.5,488.8 667.1,490.5 665.8,491.1 664.4,491.7 663.1,492.4 661.9,493.1 660.4,493.3 659.0,494.0 658.2,494.9 658.3,496.7 656.9,497.3 657.2,498.8 657.6,500.3 656.9,501.7" fill="none" style="stroke:#10281a;stroke-width:0.8"/>
<path d="M520.9,564.2 522.2,565.0 521.9,566.6 522.2,567.9 523.5,568.7 523.5,570.2 524.6,571.1 524.9,572.4 525.5,573.5 526.8,574.4 526.3,576.0 528.2,576.6 528.1,578.0 527.8,579.3 528.2,580.6 528.6,581.9 526.8,583.0 527.7,584.3 528.0,585.6 527.2,586.8 527.8,588.3 526.6,589.6 527.2,591.1 527.2,592.5 526.1,593.8 526.7,595.2 525.8,596.7 526.4,598.1 524.9,599.1 524.5,600.8 524.8,602.5 524.6,604.3" fill="none" style="stroke:#10281a;stroke-width:0.8"/>
<path d="M473.9,669.6 472.1,670.1 470.3,670.8 468.3,670.4 466.5,670.1 465.6,668.3 463.9,667.9 462.1,667.7 460.1,667.9 458.4,667.0 456.6,666.7 455.4,666.0 454.5,664.8 452.9,664.6 451.7,663.9 450.4,663.3 448.9,663.0 448.0,661.8 447.0,660.9 445.3,660.6 444.4,659.5 443.4,658.5 443.0,657.3 443.0,655.9 442.6,654.7 441.5,653.6 441.0,652.4 440.1,651.2 440.0,649.8 440.6,648.3 438.9,647.2 438.5,645.9 438.4,644.5 437.7,643.3 437.7,641.9 437.6,640.5 436.2,639.7 435.3,638.7 435.6,637.1 433.5,636.6 433.9,635.0 432.0,634.4 431.9,633.0" fill="none" style="stroke:#10281a;stroke-width:1.1"/>
<path d="M423.2,620.4 422.8,619.2 421.3,618.4 421.4,617.0 421.0,615.8 419.7,614.9 419.7,613.5 418.8,612.5 418.0,611.4 418.1,610.0 417.7,608.8 416.4,607.7 414.3,607.5 413.3,606.0 411.7,605.3 410.8,604.2 410.8,602.3 409.6,601.3 408.3,600.5 406.9,599.9 405.6,600.5 404.2,600.7 402.8,599.8 401.5,600.6 400.0,601.0 398.5,601.0 396.9,600.1 395.4,600.5 394.9,601.9 393.2,601.9 391.8,602.4 391.1,603.5 390.6,604.9 388.9,605.0 388.2,606.1 388.2,608.0 387.2,609.6 386.4,610.7 384.8,611.1 384.0,612.2 383.1,613.3 382.1,612.3 381.2,611.2 379.9,610.7 378.2,610.7 377.3,609.7 376.0,608.9 374.6,608.4 373.5,607.4 371.9,607.2 370.7,606.5 369.9,605.2 368.8,604.2 367.4,603.4 366.0,602.7 365.0,601.7 364.8,600.3 364.3,599.1 363.2,598.2 362.3,597.1 362.5,595.7 361.8,594.6 361.2,593.4 361.3,592.1 361.0,590.9 360.6,589.7 360.2,588.5 358.7,587.5 358.2,586.4 358.2,585.1 357.9,583.8 357.7,582.6 356.6,581.6 355.2,581.0 354.3,579.9 353.2,579.0 352.9,577.3 350.9,577.2 350.1,576.0 349.4,574.8 347.9,574.1 347.3,572.7 346.9,571.2 345.6,570.4 345.1,568.9 343.1,568.6 342.8,567.0 341.4,566.2 341.4,564.6 340.4,563.5 339.4,562.5 338.6,561.3 337.6,560.3 337.2,559.8" fill="none" style="stroke:#10281a;stroke-width:1.1"/>
<path d="M757.8,431.0 756.5,430.2 755.5,428.9 754.2,428.1 752.8,427.6 751.6,428.2 750.2,427.3 749.1,428.3 747.8,428.2 746.2,428.0 744.9,426.9 743.4,426.4 743.6,425.0 744.3,423.9 745.3,422.9 746.2,421.3 747.8,420.3 746.3,420.1 745.6,418.4 744.0,418.4 742.8,417.6 741.3,417.2 740.6,415.4 739.0,415.2 737.7,414.5 736.6,414.0 735.2,414.2 734.2,413.2" fill="none" style="stroke:#10281a;stroke-width:0.8"/>
<path d="M734.2,413.2 733.0,413.9 731.6,413.4 730.3,413.8 729.0,412.9 727.7,413.5 727.0,414.5 726.3,415.5 725.8,416.6 725.1,417.7 725.2,419.1 724.9,420.5 723.3,420.7 722.4,421.7 722.1,423.1 721.1,423.8 720.2,424.7 720.3,426.3 719.1,427.3 718.7,428.7 717.8,429.8 717.9,431.4 716.4,431.3 714.9,430.8 713.3,430.8 713.4,432.3 711.8,433.1 711.2,434.3 711.9,436.1 710.8,437.1 710.2,438.3 709.5,439.3 709.0,440.5 708.4,441.7 707.5,442.6 706.9,443.7 707.0,445.2 706.8,446.8 706.0,448.1 704.1,448.8 703.9,450.4 702.5,450.9 701.2,451.5 699.8,452.0 699.1,453.7 697.6,454.0 696.2,453.8 695.2,454.9 694.4,456.1 693.1,456.3 691.9,456.8 690.7,457.4 689.5,457.7 688.1,457.4 686.8,457.0 685.8,455.8 684.5,455.5 683.1,455.3 682.2,454.3" fill="none" style="stroke:#10281a;stroke-width:0.8"/>
<path d="M216.4,285.5 215.0,284.8 213.7,284.9 212.3,285.7 211.2,285.2 210.1,284.5 208.7,285.0 207.6,284.4 206.5,285.7 205.4,286.0 204.2,285.5 203.1,286.2 201.8,285.2 200.7,286.6 199.5,285.9 198.4,286.3 197.0,286.8 195.8,286.5 194.6,286.4 193.5,285.8 192.3,285.5 190.6,286.1 189.1,285.6 187.8,285.4 187.2,284.4 186.0,284.0 185.4,282.8 184.1,283.2 182.9,282.7 181.9,281.8 180.6,282.7 179.2,282.2 177.9,282.5 176.8,281.6 175.4,282.5 174.3,282.0 172.6,282.0 172.0,280.0 170.4,280.0 171.1,278.7 170.4,277.3 170.9,276.0 170.2,274.5 171.5,272.9 171.0,271.5 170.3,270.2 169.3,269.4 167.9,269.1 166.7,268.5 165.4,268.9 164.4,268.1 164.2,266.8 163.2,265.9 161.9,265.9 160.7,265.9 159.7,264.8 158.4,265.0" fill="none" style="stroke:#10281a;stroke-width:0.8"/>
<path d="M559.1,307.1 559.7,308.4 560.8,309.1 561.7,310.1 562.9,310.7" fill="none" style="stroke:#10281a;stroke-width:0.8"/>
<path d="M575.4,313.7 576.7,314.1 577.8,314.9 579.2,314.9 580.4,315.6 581.7,315.8 582.8,314.8 584.1,315.3 585.3,315.7 585.8,317.1 587.3,317.1 588.0,318.4 589.5,318.8 591.1,319.1 591.2,320.4 591.8,321.5 592.0,322.7 592.8,323.7 593.7,324.6 594.1,325.8 593.8,327.4 594.4,328.7 595.1,330.1" fill="none" style="stroke:#10281a;stroke-width:0.8"/>
<path d="M769.0,455.2 774.3,464.2 778.5,470.1 779.5,475.9 773.5,481.1 770.2,484.3 767.8,489.5" fill="none" style="stroke:#111;stroke-width:1"/>
<path d="M183.8,233.8 185.0,237.6 184.1,241.1" fill="none" style="stroke:#111;stroke-width:1"/>
<path d="M596.8,594.9 599.1,596.4 600.3,598.9 599.7,600.4" fill="none" style="stroke:#111;stroke-width:1"/>
<path d="M594.0,591.2 597.2,590.7" fill="none" style="stroke:#111;stroke-width:1"/>
<path d="M600.3,590.4 604.1,589.9" fill="none" style="stroke:#111;stroke-width:1"/>
<path d="M590.0,596.7 591.8,596.2 592.5,597.9 591.0,599.2 589.8,598.2 590.0,596.7" fill="none" style="stroke:#111;stroke-width:1"/>
<path d="M806.1,362.4 806.7,363.0" fill="none" style="stroke:#111;stroke-width:1"/>
<path d="M618.6,316.8 619.3,319.5" fill="none" style="stroke:#111;stroke-width:1"/>
<path d="M614.1,328.2 614.9,329.5" fill="none" style="stroke:#111;stroke-width:1"/>
<path d="M619.9,331.5 621.0,333.2" fill="none" style="stroke:#111;stroke-width:1"/>
<path d="M556.4,300.1 558.8,298.8" fill="none" style="stroke:#111;stroke-width:1"/>
<path d="M145.9,484.1 150.2,485.9 153.9,486.9" fill="none" style="stroke:#111;stroke-width:1"/>
<path d="M155.7,486.9 160.2,487.9" fill="none" style="stroke:#111;stroke-width:1"/>
<path d="M154.2,499.9 155.7,501.2" fill="none" style="stroke:#111;stroke-width:1"/>
<path d="M167.2,507.4 169.2,510.9" fill="none" style="stroke:#111;stroke-width:1"/>
<path d="M169.5,500.4 172.2,503.4" fill="none" style="stroke:#111;stroke-width:1"/>
<path d="M742.6,657.5 741.1,663.0 737.6,667.5 733.0,671.5 727.5,673.6" fill="none" style="stroke:#111;stroke-width:1"/>
<path d="M725.5,674.0 720.5,675.6" fill="none" style="stroke:#111;stroke-width:1"/>
<path d="M823.9,301.3 826.6,299.2 825.8,303.2" fill="none" style="stroke:#111;stroke-width:1"/>
<path d="M827.4,302.7 830.1,299.7" fill="none" style="stroke:#111;stroke-width:1"/>
<path d="M828.0,305.3 829.4,303.7" fill="none" style="stroke:#111;stroke-width:1"/>
<path d="M826.7,308.5 827.4,309.3" fill="none" style="stroke:#111;stroke-width:1"/>
<path d="M840.1,290.5 842.1,288.6" fill="none" style="stroke:#111;stroke-width:1"/>
<path d="M473.1,638.9 471.3,645.2 470.7,651.5 471.6,659.0 472.9,665.3 474.0,668.5" fill="none" style="stroke:#111;stroke-width:1"/>
<path d="M489.2,625.1 486.6,626.9 484.1,629.1" fill="none" style="stroke:#111;stroke-width:1"/>
</g>
<g fill="none" stroke="#787878" stroke-width="1">
<rect x="58.3" y="52.2" width="226.9" height="149.3"/>
<rect x="57.9" y="587.8" width="131.8" height="89.7"/>
<rect x="777.5" y="636.2" width="115.8" height="40.1"/>
</g>
<g class="ins">
<path class="isl" d="M201.0,69.2 199.3,69.2 197.5,69.1 195.8,68.5 194.1,68.9 192.4,68.3 190.6,68.1 188.7,68.0 186.7,68.1 184.8,67.5 182.8,67.3 180.6,66.4 178.9,64.7 177.3,64.3 175.7,64.1 174.1,63.5 172.6,62.7 171.1,62.1 169.2,62.7 167.8,64.2 165.9,64.7 164.3,65.8 162.4,66.4 160.7,67.3 158.9,67.6 157.4,68.6 155.8,69.4 154.2,69.9 152.8,71.0 152.5,72.8 151.0,73.7 150.3,75.2 148.7,76.3 147.2,77.4 145.6,78.4 143.8,79.1 143.7,81.0 143.2,83.0 144.1,84.5 145.7,85.4 146.5,86.9 147.7,88.2 149.2,89.3 151.0,90.0 152.5,91.1 154.2,92.1 155.8,93.4 156.8,95.2 155.2,95.8 153.5,95.9 151.9,95.6 150.3,96.0 148.6,95.9 147.0,95.8 145.4,95.3 143.8,95.2 142.1,95.6 140.5,96.2 138.8,96.1 137.2,96.8 135.4,97.9 133.9,99.4 134.8,100.8 135.2,102.4 135.9,103.8 137.6,104.5 139.1,105.4 140.7,105.9 142.4,106.4 144.1,106.4 145.7,107.2 147.4,106.7 149.0,107.2 150.7,107.5 152.4,108.1 154.2,108.2 154.9,109.7 155.0,111.4 155.5,112.9 154.5,114.5 152.8,115.4 151.6,116.8 149.9,116.9 148.3,117.4 146.6,117.5 145.1,118.1 143.9,119.2 142.3,119.9 141.1,121.0 139.8,122.0 138.8,123.3 137.9,124.7 136.7,125.8 135.9,127.2 134.9,129.1 134.6,131.1 135.3,132.8 135.8,134.5 137.0,135.9 137.2,137.7 136.4,139.6 135.9,141.6 137.8,142.3 139.8,142.9 141.4,144.1 143.2,144.9 145.1,145.5 146.1,147.1 146.9,148.9 147.7,150.7 149.4,150.4 151.0,149.4 152.9,149.4 154.2,150.7 155.7,151.8 156.8,153.3 157.8,151.7 159.1,150.4 160.7,149.4 162.5,150.9 164.6,152.0 164.0,154.1 162.9,155.9 162.4,157.7 161.5,159.3 160.6,160.7 159.3,161.8 159.0,163.5 157.8,164.7 156.8,166.0 155.4,166.9 153.9,167.5 152.6,168.4 151.2,169.2 150.0,170.4 149.0,171.5 147.4,172.3 145.7,172.9 144.1,173.6 142.4,174.1 140.7,174.4 139.0,175.0 137.7,176.4 135.9,176.7 134.3,177.8 132.6,178.7 130.7,179.3 129.1,180.4 127.3,181.1 125.5,181.9 127.5,181.7 129.4,181.1 131.3,180.5 133.3,180.6 134.9,179.9 136.4,179.3 138.0,178.8 139.7,178.5 141.1,177.5 142.7,177.0 144.2,176.1 145.7,175.5 147.3,174.9 148.6,173.7 150.3,173.3 152.0,173.0 153.6,172.3 155.3,171.7 156.8,170.8 158.3,169.8 159.4,168.3 160.8,167.1 161.9,165.6 163.5,164.7 165.0,163.4 166.0,161.7 167.3,160.3 168.8,159.1 170.3,157.9 171.3,156.3 172.6,155.0 173.7,153.4 174.8,152.0 176.4,150.9 176.8,149.2 177.8,147.8 178.7,146.0 180.1,144.7 181.4,143.3 181.9,141.6 183.3,140.4 183.9,138.7 185.1,137.4 185.9,135.8 187.2,134.6 189.5,133.3 190.6,135.2 190.2,137.1 189.3,139.0 188.5,140.6 187.6,142.2 186.6,143.7 185.8,145.9 184.5,147.8 183.9,149.5 185.7,148.6 187.2,147.1 189.2,146.2 190.6,144.6 192.0,143.5 193.3,142.3 196.0,141.7 196.7,139.0 197.0,137.3 197.4,135.6 199.3,134.2 201.5,133.5 203.1,134.6 204.2,136.2 203.5,139.0 205.5,137.3 207.6,137.5 209.6,137.9 211.4,139.1 213.0,140.6 214.6,140.6 216.1,139.7 217.7,139.8 219.6,138.7 221.8,138.4 223.8,136.5 226.0,136.1 227.9,134.9 228.9,136.6 229.9,138.3 231.3,139.4 232.1,141.0 233.3,142.3 235.0,142.7 236.4,143.9 238.0,144.6 238.7,146.4 240.0,147.8 240.8,149.5 242.1,150.9 243.2,152.6 244.8,154.1 245.9,155.9 247.3,157.0 248.8,158.2 249.8,159.8 251.3,160.9 252.6,162.1 253.8,163.5 255.5,164.4 256.7,165.8 258.3,166.3 259.6,167.5 261.0,168.4 262.7,168.7 264.6,168.5 266.4,167.9 268.1,167.1 269.4,166.1 270.5,164.9 271.5,163.6 271.8,161.4 272.5,159.3 271.9,157.7 271.1,156.2 270.5,154.5 268.8,154.5 267.2,154.1 265.6,153.5 264.0,153.1 262.4,152.5 261.1,151.3 259.9,150.0 258.3,149.3 257.2,147.9 255.6,147.1 254.6,145.4 253.2,144.1 251.5,143.1 250.0,141.8 248.8,140.3 247.3,139.3 246.0,138.1 244.6,137.0 243.4,135.6 241.7,136.5 240.0,137.6 239.0,139.5 238.7,141.7 237.1,140.7 235.3,140.3 233.9,139.0 232.7,137.5 231.2,136.2 230.4,134.7 229.2,133.5 227.6,134.2 225.8,134.2 224.4,135.0 223.1,136.0 223.2,134.3 222.7,132.7 222.4,131.2 221.8,129.6 221.2,128.1 221.4,126.4 220.7,124.9 220.8,123.2 220.6,121.6 219.7,120.1 219.4,118.5 219.6,116.8 219.0,115.2 218.2,113.8 217.9,112.2 217.6,110.6 217.9,108.9 217.5,107.3 216.6,105.8 216.8,104.1 216.6,102.5 216.0,100.9 215.4,99.4 215.3,97.8 214.6,96.3 214.1,94.7 214.7,92.9 214.0,91.4 213.6,89.8 213.6,88.2 212.9,86.7 212.9,85.0 212.6,83.4 211.7,81.9 211.4,80.3 211.1,78.7 210.7,77.1 210.7,75.5 210.1,74.0 209.9,72.3 209.6,70.7Z" fill="#ccffcc"/>
<path class="isl" d="M119.0,109.8 121.6,108.5 125.5,111.6 128.1,115.0 125.5,116.0 121.6,112.9Z" fill="#ccffcc"/>
<path class="isl" d="M128.1,137.7 132.0,136.4 134.6,139.0 131.2,141.0 128.1,139.7Z" fill="#ccffcc"/>
<path class="isl" d="M173.7,161.3 175.7,158.6 179.1,156.6 182.5,154.5 183.2,157.2 181.8,160.6 179.1,163.3 175.7,164.7 173.7,163.3Z" fill="#ccffcc"/>
<path d="M242.1,139.0 252.9,149.8 265.1,157.9 269.8,160.6" fill="none" stroke="#111" stroke-width="0.9"/>
<path d="M240.7,143.0 250.2,153.2 261.0,162.0 265.1,164.7" fill="none" stroke="#111" stroke-width="0.9"/>
<path d="M244.8,137.6 257.0,149.1 269.2,156.6" fill="none" stroke="#111" stroke-width="0.9"/>
<path d="M244.8,145.7 254.3,155.2 262.4,164.7" fill="none" stroke="#111" stroke-width="0.9"/>
<path d="M243.4,150.5 251.6,159.3 261.0,166.7" fill="none" stroke="#111" stroke-width="0.9"/>
<path d="M246.8,152.5 244.8,155.5" fill="none" stroke="#111" stroke-width="0.9"/>
<path d="M254.9,160.6 252.9,163.1" fill="none" stroke="#111" stroke-width="0.9"/>
<path d="M247.5,142.3 258.3,153.2 267.8,160.6" fill="none" stroke="#111" stroke-width="0.9"/>
<path d="M252.9,147.1 250.9,151.8" fill="none" stroke="#111" stroke-width="0.9"/>
<path d="M261.0,154.5 258.3,159.3" fill="none" stroke="#111" stroke-width="0.9"/>
<path d="M266.5,157.2 264.4,163.3" fill="none" stroke="#111" stroke-width="0.9"/>
<path d="M244.8,140.3 243.4,145.1" fill="none" stroke="#111" stroke-width="0.9"/>
<path d="M257.0,152.5 254.3,157.2" fill="none" stroke="#111" stroke-width="0.9"/>
<path d="M263.7,159.3 267.8,163.3" fill="none" stroke="#111" stroke-width="0.9"/>
<path d="M197.4,135.2 199.0,140.3 202.5,137.9 200.4,134.6 198.1,136.9" fill="none" stroke="#111" stroke-width="1.0"/>
<path d="M196.7,138.3 200.8,139.0 203.5,136.0" fill="none" stroke="#111" stroke-width="1.0"/>
<path d="M64.3,184.0 69.5,182.7" fill="none" stroke="#111" stroke-width="1.1"/>
<path d="M70.8,184.5 78.6,185.8" fill="none" stroke="#111" stroke-width="1.1"/>
<path d="M83.9,186.4 90.4,187.9" fill="none" stroke="#111" stroke-width="1.1"/>
<path d="M93.8,187.9 95.8,187.4" fill="none" stroke="#111" stroke-width="1.1"/>
<path d="M100.8,187.1 106.0,186.4" fill="none" stroke="#111" stroke-width="1.1"/>
<path d="M111.2,185.8 116.4,184.8" fill="none" stroke="#111" stroke-width="1.1"/>
<path d="M119.0,183.8 124.2,182.4" fill="none" stroke="#111" stroke-width="1.1"/>
<path d="M125.5,181.9 129.4,180.6" fill="none" stroke="#111" stroke-width="1.1"/>
<path d="M138.5,182.2 140.6,181.1" fill="none" stroke="#111" stroke-width="1.1"/>
<path d="M147.7,178.5 152.1,176.5" fill="none" stroke="#111" stroke-width="1.1"/>
<path d="M109.4,130.1 110.9,131.7" fill="none" stroke="#111" stroke-width="1.1"/>
<path d="M112.8,156.1 113.5,157.2" fill="none" stroke="#111" stroke-width="1.1"/>
<path d="M113.3,160.8 114.1,161.9" fill="none" stroke="#111" stroke-width="1.1"/>
<path d="M175.0,167.1 177.1,166.0" fill="none" stroke="#111" stroke-width="1.1"/>
</g>
<g class="ins">
<path class="isl" d="M82.4,600.4 85.1,597.8 89.4,597.3 92.1,599.2 91.7,602.7 88.9,604.4 85.1,603.9 82.9,602.2Z" fill="#99ff99"/>
<path class="isl" d="M111.0,610.6 114.0,610.1 116.6,607.8 119.2,610.9 122.2,616.2 117.5,616.7 113.4,615.0Z" fill="#99ff99"/>
<path class="isl" d="M128.9,618.5 132.4,617.1 139.4,618.3 139.7,619.7 134.1,620.9 129.7,620.0Z" fill="#99ff99"/>
<path class="isl" d="M133.8,624.1 136.2,623.2 138.5,625.8 137.3,627.6 135.0,626.7Z" fill="#99ff99"/>
<path class="isl" d="M140.3,622.3 142.9,621.4 145.5,624.1 148.1,622.7 151.6,624.1 154.3,626.7 152.5,629.3 148.1,630.7 145.5,628.5 143.8,626.2 141.1,625.5Z" fill="#99ff99"/>
<path class="isl" d="M140.3,631.1 142.9,630.2 143.4,631.6 140.8,632.1Z" fill="#99ff99"/>
<path class="isl" d="M73.7,605.1 75.9,602.7 77.7,601.6 77.2,603.4 74.9,605.8Z" fill="#99ff99"/>
<path class="isl" d="M156.0,636.3 159.5,637.7 163.9,639.8 169.2,643.7 172.7,647.7 176.5,651.2 172.7,655.3 167.4,658.2 163.9,660.9 160.4,663.5 157.3,661.8 155.2,657.4 154.6,652.1 152.5,646.9 154.3,642.5 155.2,639.0Z" fill="#99ff99"/>
</g>
<g class="ins">
<path class="isl" d="M810.8,650.8 814.2,646.7 821.7,646.3 830.0,647.5 840.0,647.2 850.0,648.3 860.0,649.7 865.8,651.7 866.3,655.8 863.3,659.2 858.3,663.7 850.0,665.0 840.0,664.7 830.0,665.0 820.0,665.3 812.5,664.7 813.0,659.2 811.7,655.0Z" fill="#99ff99"/>
<path class="isl" d="M866.7,659.7 871.7,658.7 876.7,658.7 875.8,660.0 870.0,660.8Z" fill="#99ff99"/>
<path class="isl" d="M874.7,652.0 876.7,651.7 877.5,653.3 875.3,653.7Z" fill="#99ff99"/>
<path class="isl" d="M788.0,660.0 790.8,659.3 791.3,660.8 788.7,661.3Z" fill="#99ff99"/>
</g>
<g stroke="#8c8c8c" stroke-width="0.9" fill="none">
<line x1="810.4" y1="340.4" x2="827.8" y2="336.6"/>
<line x1="812.5" y1="355.8" x2="833.7" y2="362.2"/>
<line x1="803" y1="366" x2="819.4" y2="381.4"/>
<line x1="775.4" y1="392.1" x2="795.8" y2="400.6"/>
<line x1="770.2" y1="416.4" x2="798.4" y2="420.8"/>
<line x1="771.5" y1="425.4" x2="812.5" y2="440.2"/>
</g>
<g stroke="#111" stroke-width="1.5" stroke-dasharray="1.6 2.8" fill="none">
<line x1="746.5" y1="419" x2="805.5" y2="448.4"/><line x1="746.5" y1="419.6" x2="812.5" y2="467.6"/>
</g>
<path class="isl" d="M805.5,448.4 L818.9,458.7 L813,467.6 L810.5,466.5 L808.5,462.5 L805,460.5 L802.2,456.1Z" fill="#ffff99" style="stroke:#333;stroke-width:0.7"/>
<g class="lbl">
<text transform="translate(181.5,112.1) scale(0.85,1)">AK</text>
<text transform="translate(206,267.2) scale(0.85,1)">WA</text>
<text transform="translate(187.5,322.2) scale(0.85,1)">OR</text>
<text transform="translate(262,338.2) scale(0.85,1)">ID</text>
<text transform="translate(334,299.2) scale(0.85,1)">MT</text>
<text transform="translate(439,297.2) scale(0.85,1)">ND</text>
<text transform="translate(441.5,350.7) scale(0.85,1)">SD</text>
<text transform="translate(346.5,367.2) scale(0.85,1)">WY</text>
<text transform="translate(508.5,322.2) scale(0.85,1)">MN</text>
<text transform="translate(568.5,348.2) scale(0.85,1)">WI</text>
<text transform="translate(633.5,364.7) scale(0.85,1)">MI</text>
<text transform="translate(756.5,347.2) scale(0.85,1)">NY</text>
<text transform="translate(780,318.7) scale(0.85,1)">VT</text>
<text transform="translate(796.3,335.0) scale(0.85,1)">NH</text>
<text transform="translate(816.5,291.2) scale(0.85,1)">ME</text>
<text transform="translate(156.5,415.7) scale(0.85,1)">CA</text>
<text transform="translate(216,410.7) scale(0.85,1)">NV</text>
<text transform="translate(283.5,427.7) scale(0.85,1)">UT</text>
<text transform="translate(362.5,440.7) scale(0.85,1)">CO</text>
<text transform="translate(445,400.7) scale(0.85,1)">NE</text>
<text transform="translate(459,454.2) scale(0.85,1)">KS</text>
<text transform="translate(268.5,507.7) scale(0.85,1)">AZ</text>
<text transform="translate(348.5,518.7) scale(0.85,1)">NM</text>
<text transform="translate(475.5,506.7) scale(0.85,1)">OK</text>
<text transform="translate(449,573.2) scale(0.85,1)">TX</text>
<text transform="translate(115,649.2) scale(0.85,1)">HI</text>
<text transform="translate(523.5,393.2) scale(0.85,1)">IA</text>
<text transform="translate(582,422.7) scale(0.85,1)">IL</text>
<text transform="translate(622.5,421.8) scale(0.85,1)">IN</text>
<text transform="translate(665,413.2) scale(0.85,1)">OH</text>
<text transform="translate(730,390.0) scale(0.85,1)">PA</text>
<text transform="translate(539,455.2) scale(0.85,1)">MO</text>
<text transform="translate(647.5,462.2) scale(0.85,1)">KY</text>
<text transform="translate(694,440.7) scale(0.85,1)">WV</text>
<text transform="translate(733.5,450.7) scale(0.85,1)">VA</text>
<text transform="translate(628.5,496.7) scale(0.85,1)">TN</text>
<text transform="translate(734,485.2) scale(0.85,1)">NC</text>
<text transform="translate(541.5,518.7) scale(0.85,1)">AR</text>
<text transform="translate(712.5,520.2) scale(0.85,1)">SC</text>
<text transform="translate(584.5,551.7) scale(0.85,1)">MS</text>
<text transform="translate(625,549.2) scale(0.85,1)">AL</text>
<text transform="translate(675,546.2) scale(0.85,1)">GA</text>
<text transform="translate(543.5,580.2) scale(0.85,1)">LA</text>
<text transform="translate(712.5,617.2) scale(0.85,1)">FL</text>
<text transform="translate(837,662.0) scale(0.85,1)">PR</text>
<text transform="translate(838.6,341.5) scale(0.85,1)">MA</text>
<text transform="translate(841.1,366.5) scale(0.85,1)">RI</text>
<text transform="translate(828.3,387.0) scale(0.85,1)">CT</text>
<text transform="translate(805.3,406.2) scale(0.85,1)">NJ</text>
<text transform="translate(808.4,425.4) scale(0.85,1)">DE</text>
<text transform="translate(823.2,445.1) scale(0.85,1)">MD</text>
<text transform="translate(829.3,472.0) scale(0.85,1)">DC</text>
</g>
<text class="title" x="307.7" y="88.7">Figure 2.</text>
<text class="title" x="396" y="88.7" textLength="495.7" lengthAdjust="spacingAndGlyphs">Numeric Change in Resident Population for the 50 States,</text>
<text class="title" x="396" y="114" textLength="471.3" lengthAdjust="spacingAndGlyphs">the District of Columbia, and Puerto Rico: 1990 to 2000</text>
<g class="leg">
<text x="636.5" y="157.8" textLength="118.9" lengthAdjust="spacingAndGlyphs">Change in Number of People</text>
<rect x="636.5" y="164.75" width="28.9" height="14.65" fill="#339966" stroke="#2a4a2a" stroke-width="0.6"/>
<text x="675.3" y="176.1" textLength="90" lengthAdjust="spacingAndGlyphs">Greater than 1 million</text>
<rect x="636.5" y="179.4" width="28.9" height="14.60" fill="#66cc66" stroke="#2a4a2a" stroke-width="0.6"/>
<text x="675.3" y="190.7" textLength="83.5" lengthAdjust="spacingAndGlyphs">500,001 to 1 million</text>
<rect x="636.5" y="194" width="28.9" height="14.40" fill="#99ff99" stroke="#2a4a2a" stroke-width="0.6"/>
<text x="675.3" y="205.3" textLength="82" lengthAdjust="spacingAndGlyphs">100,001 to 500,000</text>
<rect x="636.5" y="208.4" width="28.9" height="14.60" fill="#ccffcc" stroke="#2a4a2a" stroke-width="0.6"/>
<text x="675.3" y="219.7" textLength="53" lengthAdjust="spacingAndGlyphs">0 to 100,000</text>
<rect x="636.5" y="223" width="28.9" height="14.50" fill="#ffff99" stroke="#2a4a2a" stroke-width="0.6"/>
<text x="675.3" y="234.3" textLength="46.5" lengthAdjust="spacingAndGlyphs">Less than 0</text>
<text x="636.5" y="251.9" textLength="118.9" lengthAdjust="spacingAndGlyphs">Change for U.S.: 32,712,033</text>
</g>
<text x="58.4" y="696.8" style="font-family:'Liberation Sans',sans-serif;font-size:8.4px;fill:#111">Prepared by Geography Division</text>
<text x="777.9" y="697" textLength="125.6" lengthAdjust="spacing" style="font-family:'Liberation Serif',serif;font-size:13.2px"><tspan fill="#2b2b6b">U</tspan><tspan fill="#5a9ad0">S</tspan><tspan fill="#2b2b6b">C</tspan><tspan fill="#56b0b8">E</tspan><tspan fill="#2b2b6b">N</tspan><tspan fill="#2b2b6b">S</tspan><tspan fill="#6aa8dc">U</tspan><tspan fill="#2b2b6b">S</tspan><tspan fill="#2b2b6b">B</tspan><tspan fill="#2b2b6b">U</tspan><tspan fill="#5a9ad0">R</tspan><tspan fill="#2b2b6b">E</tspan><tspan fill="#6aa8dc">A</tspan><tspan fill="#2b2b6b">U</tspan></text>
<text x="777.5" y="707.6" textLength="111.7" lengthAdjust="spacingAndGlyphs" style="font-family:'Liberation Serif',serif;font-size:8.2px;font-style:italic;font-weight:bold;fill:#2b2b7b">Helping You Make Informed Decisions</text>
</svg>
</body></html>
